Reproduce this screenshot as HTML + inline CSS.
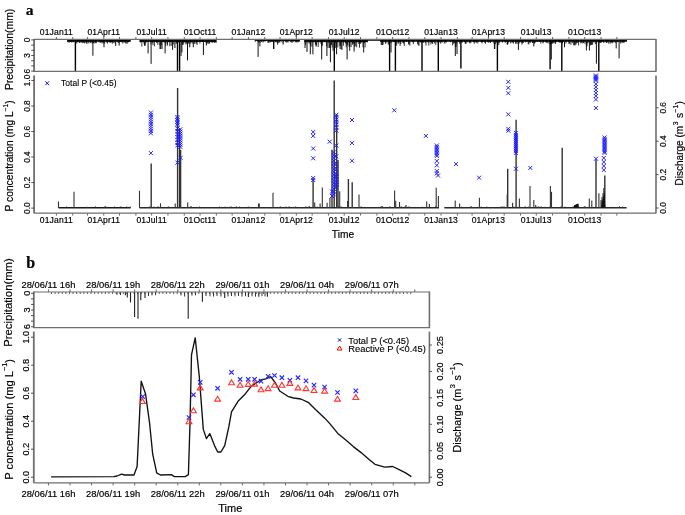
<!DOCTYPE html>
<html><head><meta charset="utf-8"><title>Figure</title>
<style>html,body{margin:0;padding:0;background:#fff;}svg{display:block;will-change:transform;filter:blur(0.3px);}</style></head>
<body><svg width="685" height="515" viewBox="0 0 685 515">
<rect width="685" height="515" fill="#fff"/>
<text x="25.70" y="14.50" font-size="15.6" text-anchor="start" fill="#000" font-weight="bold" font-family='"Liberation Serif", serif' stroke="#000" stroke-width="0.18">a</text>
<line x1="56.40" y1="39.40" x2="56.40" y2="37.00" stroke="#555" stroke-width="0.9" />
<line x1="56.40" y1="213.20" x2="56.40" y2="215.60" stroke="#555" stroke-width="0.9" />
<text x="56.40" y="35.00" font-size="8.55" text-anchor="middle" fill="#000" font-weight="normal" font-family='"Liberation Sans", sans-serif' stroke="#000" stroke-width="0.18" letter-spacing="0.15">01Jan11</text>
<text x="56.40" y="223.00" font-size="8.55" text-anchor="middle" fill="#000" font-weight="normal" font-family='"Liberation Sans", sans-serif' stroke="#000" stroke-width="0.18" letter-spacing="0.15">01Jan11</text>
<line x1="72.71" y1="39.40" x2="72.71" y2="37.00" stroke="#555" stroke-width="0.9" />
<line x1="72.71" y1="213.20" x2="72.71" y2="215.60" stroke="#555" stroke-width="0.9" />
<line x1="87.45" y1="39.40" x2="87.45" y2="37.00" stroke="#555" stroke-width="0.9" />
<line x1="87.45" y1="213.20" x2="87.45" y2="215.60" stroke="#555" stroke-width="0.9" />
<line x1="103.76" y1="39.40" x2="103.76" y2="37.00" stroke="#555" stroke-width="0.9" />
<line x1="103.76" y1="213.20" x2="103.76" y2="215.60" stroke="#555" stroke-width="0.9" />
<text x="103.76" y="35.00" font-size="8.55" text-anchor="middle" fill="#000" font-weight="normal" font-family='"Liberation Sans", sans-serif' stroke="#000" stroke-width="0.18" letter-spacing="0.15">01Apr11</text>
<text x="103.76" y="223.00" font-size="8.55" text-anchor="middle" fill="#000" font-weight="normal" font-family='"Liberation Sans", sans-serif' stroke="#000" stroke-width="0.18" letter-spacing="0.15">01Apr11</text>
<line x1="119.54" y1="39.40" x2="119.54" y2="37.00" stroke="#555" stroke-width="0.9" />
<line x1="119.54" y1="213.20" x2="119.54" y2="215.60" stroke="#555" stroke-width="0.9" />
<line x1="135.86" y1="39.40" x2="135.86" y2="37.00" stroke="#555" stroke-width="0.9" />
<line x1="135.86" y1="213.20" x2="135.86" y2="215.60" stroke="#555" stroke-width="0.9" />
<line x1="151.64" y1="39.40" x2="151.64" y2="37.00" stroke="#555" stroke-width="0.9" />
<line x1="151.64" y1="213.20" x2="151.64" y2="215.60" stroke="#555" stroke-width="0.9" />
<text x="151.64" y="35.00" font-size="8.55" text-anchor="middle" fill="#000" font-weight="normal" font-family='"Liberation Sans", sans-serif' stroke="#000" stroke-width="0.18" letter-spacing="0.15">01Jul11</text>
<text x="151.64" y="223.00" font-size="8.55" text-anchor="middle" fill="#000" font-weight="normal" font-family='"Liberation Sans", sans-serif' stroke="#000" stroke-width="0.18" letter-spacing="0.15">01Jul11</text>
<line x1="167.95" y1="39.40" x2="167.95" y2="37.00" stroke="#555" stroke-width="0.9" />
<line x1="167.95" y1="213.20" x2="167.95" y2="215.60" stroke="#555" stroke-width="0.9" />
<line x1="184.27" y1="39.40" x2="184.27" y2="37.00" stroke="#555" stroke-width="0.9" />
<line x1="184.27" y1="213.20" x2="184.27" y2="215.60" stroke="#555" stroke-width="0.9" />
<line x1="200.05" y1="39.40" x2="200.05" y2="37.00" stroke="#555" stroke-width="0.9" />
<line x1="200.05" y1="213.20" x2="200.05" y2="215.60" stroke="#555" stroke-width="0.9" />
<text x="200.05" y="35.00" font-size="8.55" text-anchor="middle" fill="#000" font-weight="normal" font-family='"Liberation Sans", sans-serif' stroke="#000" stroke-width="0.18" letter-spacing="0.15">01Oct11</text>
<text x="200.05" y="223.00" font-size="8.55" text-anchor="middle" fill="#000" font-weight="normal" font-family='"Liberation Sans", sans-serif' stroke="#000" stroke-width="0.18" letter-spacing="0.15">01Oct11</text>
<line x1="216.36" y1="39.40" x2="216.36" y2="37.00" stroke="#555" stroke-width="0.9" />
<line x1="216.36" y1="213.20" x2="216.36" y2="215.60" stroke="#555" stroke-width="0.9" />
<line x1="232.15" y1="39.40" x2="232.15" y2="37.00" stroke="#555" stroke-width="0.9" />
<line x1="232.15" y1="213.20" x2="232.15" y2="215.60" stroke="#555" stroke-width="0.9" />
<line x1="248.46" y1="39.40" x2="248.46" y2="37.00" stroke="#555" stroke-width="0.9" />
<line x1="248.46" y1="213.20" x2="248.46" y2="215.60" stroke="#555" stroke-width="0.9" />
<text x="248.46" y="35.00" font-size="8.55" text-anchor="middle" fill="#000" font-weight="normal" font-family='"Liberation Sans", sans-serif' stroke="#000" stroke-width="0.18" letter-spacing="0.15">01Jan12</text>
<text x="248.46" y="223.00" font-size="8.55" text-anchor="middle" fill="#000" font-weight="normal" font-family='"Liberation Sans", sans-serif' stroke="#000" stroke-width="0.18" letter-spacing="0.15">01Jan12</text>
<line x1="264.78" y1="39.40" x2="264.78" y2="37.00" stroke="#555" stroke-width="0.9" />
<line x1="264.78" y1="213.20" x2="264.78" y2="215.60" stroke="#555" stroke-width="0.9" />
<line x1="280.03" y1="39.40" x2="280.03" y2="37.00" stroke="#555" stroke-width="0.9" />
<line x1="280.03" y1="213.20" x2="280.03" y2="215.60" stroke="#555" stroke-width="0.9" />
<line x1="296.35" y1="39.40" x2="296.35" y2="37.00" stroke="#555" stroke-width="0.9" />
<line x1="296.35" y1="213.20" x2="296.35" y2="215.60" stroke="#555" stroke-width="0.9" />
<text x="296.35" y="35.00" font-size="8.55" text-anchor="middle" fill="#000" font-weight="normal" font-family='"Liberation Sans", sans-serif' stroke="#000" stroke-width="0.18" letter-spacing="0.15">01Apr12</text>
<text x="296.35" y="223.00" font-size="8.55" text-anchor="middle" fill="#000" font-weight="normal" font-family='"Liberation Sans", sans-serif' stroke="#000" stroke-width="0.18" letter-spacing="0.15">01Apr12</text>
<line x1="312.13" y1="39.40" x2="312.13" y2="37.00" stroke="#555" stroke-width="0.9" />
<line x1="312.13" y1="213.20" x2="312.13" y2="215.60" stroke="#555" stroke-width="0.9" />
<line x1="328.45" y1="39.40" x2="328.45" y2="37.00" stroke="#555" stroke-width="0.9" />
<line x1="328.45" y1="213.20" x2="328.45" y2="215.60" stroke="#555" stroke-width="0.9" />
<line x1="344.23" y1="39.40" x2="344.23" y2="37.00" stroke="#555" stroke-width="0.9" />
<line x1="344.23" y1="213.20" x2="344.23" y2="215.60" stroke="#555" stroke-width="0.9" />
<text x="344.23" y="35.00" font-size="8.55" text-anchor="middle" fill="#000" font-weight="normal" font-family='"Liberation Sans", sans-serif' stroke="#000" stroke-width="0.18" letter-spacing="0.15">01Jul12</text>
<text x="344.23" y="223.00" font-size="8.55" text-anchor="middle" fill="#000" font-weight="normal" font-family='"Liberation Sans", sans-serif' stroke="#000" stroke-width="0.18" letter-spacing="0.15">01Jul12</text>
<line x1="360.54" y1="39.40" x2="360.54" y2="37.00" stroke="#555" stroke-width="0.9" />
<line x1="360.54" y1="213.20" x2="360.54" y2="215.60" stroke="#555" stroke-width="0.9" />
<line x1="376.86" y1="39.40" x2="376.86" y2="37.00" stroke="#555" stroke-width="0.9" />
<line x1="376.86" y1="213.20" x2="376.86" y2="215.60" stroke="#555" stroke-width="0.9" />
<line x1="392.64" y1="39.40" x2="392.64" y2="37.00" stroke="#555" stroke-width="0.9" />
<line x1="392.64" y1="213.20" x2="392.64" y2="215.60" stroke="#555" stroke-width="0.9" />
<text x="392.64" y="35.00" font-size="8.55" text-anchor="middle" fill="#000" font-weight="normal" font-family='"Liberation Sans", sans-serif' stroke="#000" stroke-width="0.18" letter-spacing="0.15">01Oct12</text>
<text x="392.64" y="223.00" font-size="8.55" text-anchor="middle" fill="#000" font-weight="normal" font-family='"Liberation Sans", sans-serif' stroke="#000" stroke-width="0.18" letter-spacing="0.15">01Oct12</text>
<line x1="408.95" y1="39.40" x2="408.95" y2="37.00" stroke="#555" stroke-width="0.9" />
<line x1="408.95" y1="213.20" x2="408.95" y2="215.60" stroke="#555" stroke-width="0.9" />
<line x1="424.74" y1="39.40" x2="424.74" y2="37.00" stroke="#555" stroke-width="0.9" />
<line x1="424.74" y1="213.20" x2="424.74" y2="215.60" stroke="#555" stroke-width="0.9" />
<line x1="441.05" y1="39.40" x2="441.05" y2="37.00" stroke="#555" stroke-width="0.9" />
<line x1="441.05" y1="213.20" x2="441.05" y2="215.60" stroke="#555" stroke-width="0.9" />
<text x="441.05" y="35.00" font-size="8.55" text-anchor="middle" fill="#000" font-weight="normal" font-family='"Liberation Sans", sans-serif' stroke="#000" stroke-width="0.18" letter-spacing="0.15">01Jan13</text>
<text x="441.05" y="223.00" font-size="8.55" text-anchor="middle" fill="#000" font-weight="normal" font-family='"Liberation Sans", sans-serif' stroke="#000" stroke-width="0.18" letter-spacing="0.15">01Jan13</text>
<line x1="457.36" y1="39.40" x2="457.36" y2="37.00" stroke="#555" stroke-width="0.9" />
<line x1="457.36" y1="213.20" x2="457.36" y2="215.60" stroke="#555" stroke-width="0.9" />
<line x1="472.10" y1="39.40" x2="472.10" y2="37.00" stroke="#555" stroke-width="0.9" />
<line x1="472.10" y1="213.20" x2="472.10" y2="215.60" stroke="#555" stroke-width="0.9" />
<line x1="488.41" y1="39.40" x2="488.41" y2="37.00" stroke="#555" stroke-width="0.9" />
<line x1="488.41" y1="213.20" x2="488.41" y2="215.60" stroke="#555" stroke-width="0.9" />
<text x="488.41" y="35.00" font-size="8.55" text-anchor="middle" fill="#000" font-weight="normal" font-family='"Liberation Sans", sans-serif' stroke="#000" stroke-width="0.18" letter-spacing="0.15">01Apr13</text>
<text x="488.41" y="223.00" font-size="8.55" text-anchor="middle" fill="#000" font-weight="normal" font-family='"Liberation Sans", sans-serif' stroke="#000" stroke-width="0.18" letter-spacing="0.15">01Apr13</text>
<line x1="504.20" y1="39.40" x2="504.20" y2="37.00" stroke="#555" stroke-width="0.9" />
<line x1="504.20" y1="213.20" x2="504.20" y2="215.60" stroke="#555" stroke-width="0.9" />
<line x1="520.51" y1="39.40" x2="520.51" y2="37.00" stroke="#555" stroke-width="0.9" />
<line x1="520.51" y1="213.20" x2="520.51" y2="215.60" stroke="#555" stroke-width="0.9" />
<line x1="536.29" y1="39.40" x2="536.29" y2="37.00" stroke="#555" stroke-width="0.9" />
<line x1="536.29" y1="213.20" x2="536.29" y2="215.60" stroke="#555" stroke-width="0.9" />
<text x="536.29" y="35.00" font-size="8.55" text-anchor="middle" fill="#000" font-weight="normal" font-family='"Liberation Sans", sans-serif' stroke="#000" stroke-width="0.18" letter-spacing="0.15">01Jul13</text>
<text x="536.29" y="223.00" font-size="8.55" text-anchor="middle" fill="#000" font-weight="normal" font-family='"Liberation Sans", sans-serif' stroke="#000" stroke-width="0.18" letter-spacing="0.15">01Jul13</text>
<line x1="552.61" y1="39.40" x2="552.61" y2="37.00" stroke="#555" stroke-width="0.9" />
<line x1="552.61" y1="213.20" x2="552.61" y2="215.60" stroke="#555" stroke-width="0.9" />
<line x1="568.92" y1="39.40" x2="568.92" y2="37.00" stroke="#555" stroke-width="0.9" />
<line x1="568.92" y1="213.20" x2="568.92" y2="215.60" stroke="#555" stroke-width="0.9" />
<line x1="584.70" y1="39.40" x2="584.70" y2="37.00" stroke="#555" stroke-width="0.9" />
<line x1="584.70" y1="213.20" x2="584.70" y2="215.60" stroke="#555" stroke-width="0.9" />
<text x="584.70" y="35.00" font-size="8.55" text-anchor="middle" fill="#000" font-weight="normal" font-family='"Liberation Sans", sans-serif' stroke="#000" stroke-width="0.18" letter-spacing="0.15">01Oct13</text>
<text x="584.70" y="223.00" font-size="8.55" text-anchor="middle" fill="#000" font-weight="normal" font-family='"Liberation Sans", sans-serif' stroke="#000" stroke-width="0.18" letter-spacing="0.15">01Oct13</text>
<line x1="601.02" y1="39.40" x2="601.02" y2="37.00" stroke="#555" stroke-width="0.9" />
<line x1="601.02" y1="213.20" x2="601.02" y2="215.60" stroke="#555" stroke-width="0.9" />
<line x1="616.80" y1="39.40" x2="616.80" y2="37.00" stroke="#555" stroke-width="0.9" />
<line x1="616.80" y1="213.20" x2="616.80" y2="215.60" stroke="#555" stroke-width="0.9" />
<rect x="67.40" y="39.40" width="63.20" height="2.40" fill="#111"/>
<rect x="139.50" y="39.40" width="76.90" height="2.60" fill="#111"/>
<rect x="255.10" y="39.40" width="44.70" height="1.60" fill="#111"/>
<rect x="304.50" y="39.40" width="63.50" height="2.80" fill="#111"/>
<rect x="368.00" y="39.40" width="12.00" height="1.40" fill="#111"/>
<rect x="380.00" y="39.40" width="247.00" height="2.40" fill="#111"/>
<line x1="67.60" y1="39.40" x2="67.60" y2="42.10" stroke="#000" stroke-width="0.8" />
<line x1="69.00" y1="39.40" x2="69.00" y2="42.87" stroke="#000" stroke-width="0.8" />
<line x1="69.70" y1="39.40" x2="69.70" y2="41.92" stroke="#000" stroke-width="0.8" />
<line x1="70.40" y1="39.40" x2="70.40" y2="41.87" stroke="#000" stroke-width="0.8" />
<line x1="71.10" y1="39.40" x2="71.10" y2="41.94" stroke="#000" stroke-width="0.8" />
<line x1="71.80" y1="39.40" x2="71.80" y2="42.65" stroke="#000" stroke-width="0.8" />
<line x1="73.20" y1="39.40" x2="73.20" y2="42.25" stroke="#000" stroke-width="0.8" />
<line x1="75.30" y1="39.40" x2="75.30" y2="42.59" stroke="#000" stroke-width="0.8" />
<line x1="76.70" y1="39.40" x2="76.70" y2="43.52" stroke="#000" stroke-width="0.8" />
<line x1="77.40" y1="39.40" x2="77.40" y2="42.09" stroke="#000" stroke-width="0.8" />
<line x1="78.10" y1="39.40" x2="78.10" y2="42.42" stroke="#000" stroke-width="0.8" />
<line x1="79.50" y1="39.40" x2="79.50" y2="42.96" stroke="#000" stroke-width="0.8" />
<line x1="80.90" y1="39.40" x2="80.90" y2="42.90" stroke="#000" stroke-width="0.8" />
<line x1="81.60" y1="39.40" x2="81.60" y2="41.92" stroke="#000" stroke-width="0.8" />
<line x1="82.30" y1="39.40" x2="82.30" y2="43.16" stroke="#000" stroke-width="0.8" />
<line x1="83.00" y1="39.40" x2="83.00" y2="42.43" stroke="#000" stroke-width="0.8" />
<line x1="83.70" y1="39.40" x2="83.70" y2="42.71" stroke="#000" stroke-width="0.8" />
<line x1="84.40" y1="39.40" x2="84.40" y2="43.39" stroke="#000" stroke-width="0.8" />
<line x1="85.80" y1="39.40" x2="85.80" y2="42.95" stroke="#000" stroke-width="0.8" />
<line x1="86.50" y1="39.40" x2="86.50" y2="43.55" stroke="#000" stroke-width="0.8" />
<line x1="87.90" y1="39.40" x2="87.90" y2="43.76" stroke="#000" stroke-width="0.8" />
<line x1="88.60" y1="39.40" x2="88.60" y2="42.64" stroke="#000" stroke-width="0.8" />
<line x1="90.00" y1="39.40" x2="90.00" y2="42.78" stroke="#000" stroke-width="0.8" />
<line x1="90.70" y1="39.40" x2="90.70" y2="43.14" stroke="#000" stroke-width="0.8" />
<line x1="92.10" y1="39.40" x2="92.10" y2="43.55" stroke="#000" stroke-width="0.8" />
<line x1="92.80" y1="39.40" x2="92.80" y2="43.19" stroke="#000" stroke-width="0.8" />
<line x1="93.50" y1="39.40" x2="93.50" y2="42.96" stroke="#000" stroke-width="0.8" />
<line x1="94.20" y1="39.40" x2="94.20" y2="43.48" stroke="#000" stroke-width="0.8" />
<line x1="95.60" y1="39.40" x2="95.60" y2="43.13" stroke="#000" stroke-width="0.8" />
<line x1="96.30" y1="39.40" x2="96.30" y2="43.20" stroke="#000" stroke-width="0.8" />
<line x1="99.10" y1="39.40" x2="99.10" y2="42.57" stroke="#000" stroke-width="0.8" />
<line x1="100.50" y1="39.40" x2="100.50" y2="42.72" stroke="#000" stroke-width="0.8" />
<line x1="101.20" y1="39.40" x2="101.20" y2="42.03" stroke="#000" stroke-width="0.8" />
<line x1="101.90" y1="39.40" x2="101.90" y2="43.34" stroke="#000" stroke-width="0.8" />
<line x1="102.60" y1="39.40" x2="102.60" y2="42.30" stroke="#000" stroke-width="0.8" />
<line x1="103.30" y1="39.40" x2="103.30" y2="43.54" stroke="#000" stroke-width="0.8" />
<line x1="104.00" y1="39.40" x2="104.00" y2="42.70" stroke="#000" stroke-width="0.8" />
<line x1="104.70" y1="39.40" x2="104.70" y2="43.57" stroke="#000" stroke-width="0.8" />
<line x1="106.80" y1="39.40" x2="106.80" y2="42.63" stroke="#000" stroke-width="0.8" />
<line x1="107.50" y1="39.40" x2="107.50" y2="43.57" stroke="#000" stroke-width="0.8" />
<line x1="108.90" y1="39.40" x2="108.90" y2="42.15" stroke="#000" stroke-width="0.8" />
<line x1="109.60" y1="39.40" x2="109.60" y2="42.27" stroke="#000" stroke-width="0.8" />
<line x1="110.30" y1="39.40" x2="110.30" y2="42.98" stroke="#000" stroke-width="0.8" />
<line x1="111.00" y1="39.40" x2="111.00" y2="41.81" stroke="#000" stroke-width="0.8" />
<line x1="111.70" y1="39.40" x2="111.70" y2="42.54" stroke="#000" stroke-width="0.8" />
<line x1="112.40" y1="39.40" x2="112.40" y2="43.71" stroke="#000" stroke-width="0.8" />
<line x1="113.80" y1="39.40" x2="113.80" y2="43.04" stroke="#000" stroke-width="0.8" />
<line x1="115.20" y1="39.40" x2="115.20" y2="43.60" stroke="#000" stroke-width="0.8" />
<line x1="118.00" y1="39.40" x2="118.00" y2="42.60" stroke="#000" stroke-width="0.8" />
<line x1="118.70" y1="39.40" x2="118.70" y2="43.07" stroke="#000" stroke-width="0.8" />
<line x1="119.40" y1="39.40" x2="119.40" y2="41.93" stroke="#000" stroke-width="0.8" />
<line x1="120.10" y1="39.40" x2="120.10" y2="42.12" stroke="#000" stroke-width="0.8" />
<line x1="120.80" y1="39.40" x2="120.80" y2="41.91" stroke="#000" stroke-width="0.8" />
<line x1="121.50" y1="39.40" x2="121.50" y2="42.10" stroke="#000" stroke-width="0.8" />
<line x1="122.20" y1="39.40" x2="122.20" y2="42.53" stroke="#000" stroke-width="0.8" />
<line x1="122.90" y1="39.40" x2="122.90" y2="43.55" stroke="#000" stroke-width="0.8" />
<line x1="124.30" y1="39.40" x2="124.30" y2="42.30" stroke="#000" stroke-width="0.8" />
<line x1="125.00" y1="39.40" x2="125.00" y2="42.53" stroke="#000" stroke-width="0.8" />
<line x1="125.70" y1="39.40" x2="125.70" y2="43.50" stroke="#000" stroke-width="0.8" />
<line x1="127.10" y1="39.40" x2="127.10" y2="42.77" stroke="#000" stroke-width="0.8" />
<line x1="127.80" y1="39.40" x2="127.80" y2="42.00" stroke="#000" stroke-width="0.8" />
<line x1="128.50" y1="39.40" x2="128.50" y2="42.33" stroke="#000" stroke-width="0.8" />
<line x1="129.90" y1="39.40" x2="129.90" y2="41.85" stroke="#000" stroke-width="0.8" />
<line x1="140.40" y1="39.40" x2="140.40" y2="42.52" stroke="#000" stroke-width="0.8" />
<line x1="141.10" y1="39.40" x2="141.10" y2="41.93" stroke="#000" stroke-width="0.8" />
<line x1="141.80" y1="39.40" x2="141.80" y2="46.59" stroke="#000" stroke-width="0.8" />
<line x1="143.90" y1="39.40" x2="143.90" y2="43.60" stroke="#000" stroke-width="0.8" />
<line x1="144.60" y1="39.40" x2="144.60" y2="45.58" stroke="#000" stroke-width="0.8" />
<line x1="145.30" y1="39.40" x2="145.30" y2="45.62" stroke="#000" stroke-width="0.8" />
<line x1="146.00" y1="39.40" x2="146.00" y2="42.89" stroke="#000" stroke-width="0.8" />
<line x1="150.90" y1="39.40" x2="150.90" y2="44.34" stroke="#000" stroke-width="0.8" />
<line x1="151.60" y1="39.40" x2="151.60" y2="41.94" stroke="#000" stroke-width="0.8" />
<line x1="152.30" y1="39.40" x2="152.30" y2="43.17" stroke="#000" stroke-width="0.8" />
<line x1="153.00" y1="39.40" x2="153.00" y2="45.19" stroke="#000" stroke-width="0.8" />
<line x1="154.40" y1="39.40" x2="154.40" y2="46.39" stroke="#000" stroke-width="0.8" />
<line x1="156.50" y1="39.40" x2="156.50" y2="42.88" stroke="#000" stroke-width="0.8" />
<line x1="157.20" y1="39.40" x2="157.20" y2="42.76" stroke="#000" stroke-width="0.8" />
<line x1="157.90" y1="39.40" x2="157.90" y2="44.86" stroke="#000" stroke-width="0.8" />
<line x1="160.00" y1="39.40" x2="160.00" y2="45.00" stroke="#000" stroke-width="0.8" />
<line x1="161.40" y1="39.40" x2="161.40" y2="45.04" stroke="#000" stroke-width="0.8" />
<line x1="164.20" y1="39.40" x2="164.20" y2="42.67" stroke="#000" stroke-width="0.8" />
<line x1="165.60" y1="39.40" x2="165.60" y2="45.72" stroke="#000" stroke-width="0.8" />
<line x1="167.00" y1="39.40" x2="167.00" y2="43.77" stroke="#000" stroke-width="0.8" />
<line x1="169.10" y1="39.40" x2="169.10" y2="42.42" stroke="#000" stroke-width="0.8" />
<line x1="169.80" y1="39.40" x2="169.80" y2="46.23" stroke="#000" stroke-width="0.8" />
<line x1="171.20" y1="39.40" x2="171.20" y2="45.85" stroke="#000" stroke-width="0.8" />
<line x1="173.30" y1="39.40" x2="173.30" y2="44.49" stroke="#000" stroke-width="0.8" />
<line x1="174.00" y1="39.40" x2="174.00" y2="41.87" stroke="#000" stroke-width="0.8" />
<line x1="176.10" y1="39.40" x2="176.10" y2="43.67" stroke="#000" stroke-width="0.8" />
<line x1="176.80" y1="39.40" x2="176.80" y2="43.54" stroke="#000" stroke-width="0.8" />
<line x1="178.20" y1="39.40" x2="178.20" y2="42.30" stroke="#000" stroke-width="0.8" />
<line x1="178.90" y1="39.40" x2="178.90" y2="42.28" stroke="#000" stroke-width="0.8" />
<line x1="179.60" y1="39.40" x2="179.60" y2="42.32" stroke="#000" stroke-width="0.8" />
<line x1="180.30" y1="39.40" x2="180.30" y2="42.06" stroke="#000" stroke-width="0.8" />
<line x1="181.70" y1="39.40" x2="181.70" y2="42.72" stroke="#000" stroke-width="0.8" />
<line x1="182.40" y1="39.40" x2="182.40" y2="44.87" stroke="#000" stroke-width="0.8" />
<line x1="183.10" y1="39.40" x2="183.10" y2="44.92" stroke="#000" stroke-width="0.8" />
<line x1="183.80" y1="39.40" x2="183.80" y2="43.61" stroke="#000" stroke-width="0.8" />
<line x1="184.50" y1="39.40" x2="184.50" y2="41.86" stroke="#000" stroke-width="0.8" />
<line x1="185.20" y1="39.40" x2="185.20" y2="42.42" stroke="#000" stroke-width="0.8" />
<line x1="185.90" y1="39.40" x2="185.90" y2="44.52" stroke="#000" stroke-width="0.8" />
<line x1="186.60" y1="39.40" x2="186.60" y2="43.41" stroke="#000" stroke-width="0.8" />
<line x1="188.00" y1="39.40" x2="188.00" y2="42.91" stroke="#000" stroke-width="0.8" />
<line x1="188.70" y1="39.40" x2="188.70" y2="43.69" stroke="#000" stroke-width="0.8" />
<line x1="190.10" y1="39.40" x2="190.10" y2="43.71" stroke="#000" stroke-width="0.8" />
<line x1="190.80" y1="39.40" x2="190.80" y2="42.74" stroke="#000" stroke-width="0.8" />
<line x1="192.20" y1="39.40" x2="192.20" y2="43.71" stroke="#000" stroke-width="0.8" />
<line x1="194.30" y1="39.40" x2="194.30" y2="43.88" stroke="#000" stroke-width="0.8" />
<line x1="195.00" y1="39.40" x2="195.00" y2="43.54" stroke="#000" stroke-width="0.8" />
<line x1="196.40" y1="39.40" x2="196.40" y2="43.61" stroke="#000" stroke-width="0.8" />
<line x1="197.10" y1="39.40" x2="197.10" y2="45.00" stroke="#000" stroke-width="0.8" />
<line x1="199.90" y1="39.40" x2="199.90" y2="43.70" stroke="#000" stroke-width="0.8" />
<line x1="202.00" y1="39.40" x2="202.00" y2="42.04" stroke="#000" stroke-width="0.8" />
<line x1="202.70" y1="39.40" x2="202.70" y2="41.95" stroke="#000" stroke-width="0.8" />
<line x1="203.40" y1="39.40" x2="203.40" y2="41.95" stroke="#000" stroke-width="0.8" />
<line x1="206.20" y1="39.40" x2="206.20" y2="43.23" stroke="#000" stroke-width="0.8" />
<line x1="207.60" y1="39.40" x2="207.60" y2="43.57" stroke="#000" stroke-width="0.8" />
<line x1="209.00" y1="39.40" x2="209.00" y2="43.71" stroke="#000" stroke-width="0.8" />
<line x1="209.70" y1="39.40" x2="209.70" y2="42.77" stroke="#000" stroke-width="0.8" />
<line x1="211.80" y1="39.40" x2="211.80" y2="42.66" stroke="#000" stroke-width="0.8" />
<line x1="212.50" y1="39.40" x2="212.50" y2="42.48" stroke="#000" stroke-width="0.8" />
<line x1="213.20" y1="39.40" x2="213.20" y2="42.44" stroke="#000" stroke-width="0.8" />
<line x1="214.60" y1="39.40" x2="214.60" y2="42.91" stroke="#000" stroke-width="0.8" />
<line x1="215.30" y1="39.40" x2="215.30" y2="41.84" stroke="#000" stroke-width="0.8" />
<line x1="216.00" y1="39.40" x2="216.00" y2="43.05" stroke="#000" stroke-width="0.8" />
<line x1="255.20" y1="39.40" x2="255.20" y2="41.86" stroke="#000" stroke-width="0.8" />
<line x1="258.00" y1="39.40" x2="258.00" y2="42.07" stroke="#000" stroke-width="0.8" />
<line x1="258.70" y1="39.40" x2="258.70" y2="42.58" stroke="#000" stroke-width="0.8" />
<line x1="259.40" y1="39.40" x2="259.40" y2="41.93" stroke="#000" stroke-width="0.8" />
<line x1="260.10" y1="39.40" x2="260.10" y2="42.71" stroke="#000" stroke-width="0.8" />
<line x1="261.50" y1="39.40" x2="261.50" y2="41.95" stroke="#000" stroke-width="0.8" />
<line x1="262.90" y1="39.40" x2="262.90" y2="42.50" stroke="#000" stroke-width="0.8" />
<line x1="263.60" y1="39.40" x2="263.60" y2="41.86" stroke="#000" stroke-width="0.8" />
<line x1="265.00" y1="39.40" x2="265.00" y2="41.87" stroke="#000" stroke-width="0.8" />
<line x1="267.80" y1="39.40" x2="267.80" y2="42.66" stroke="#000" stroke-width="0.8" />
<line x1="268.50" y1="39.40" x2="268.50" y2="42.66" stroke="#000" stroke-width="0.8" />
<line x1="269.20" y1="39.40" x2="269.20" y2="42.14" stroke="#000" stroke-width="0.8" />
<line x1="269.90" y1="39.40" x2="269.90" y2="42.73" stroke="#000" stroke-width="0.8" />
<line x1="270.60" y1="39.40" x2="270.60" y2="41.93" stroke="#000" stroke-width="0.8" />
<line x1="271.30" y1="39.40" x2="271.30" y2="42.04" stroke="#000" stroke-width="0.8" />
<line x1="272.00" y1="39.40" x2="272.00" y2="41.96" stroke="#000" stroke-width="0.8" />
<line x1="272.70" y1="39.40" x2="272.70" y2="42.00" stroke="#000" stroke-width="0.8" />
<line x1="273.40" y1="39.40" x2="273.40" y2="42.11" stroke="#000" stroke-width="0.8" />
<line x1="274.80" y1="39.40" x2="274.80" y2="42.30" stroke="#000" stroke-width="0.8" />
<line x1="275.50" y1="39.40" x2="275.50" y2="42.15" stroke="#000" stroke-width="0.8" />
<line x1="276.20" y1="39.40" x2="276.20" y2="42.05" stroke="#000" stroke-width="0.8" />
<line x1="276.90" y1="39.40" x2="276.90" y2="42.53" stroke="#000" stroke-width="0.8" />
<line x1="277.60" y1="39.40" x2="277.60" y2="41.99" stroke="#000" stroke-width="0.8" />
<line x1="278.30" y1="39.40" x2="278.30" y2="42.73" stroke="#000" stroke-width="0.8" />
<line x1="279.00" y1="39.40" x2="279.00" y2="42.62" stroke="#000" stroke-width="0.8" />
<line x1="279.70" y1="39.40" x2="279.70" y2="42.30" stroke="#000" stroke-width="0.8" />
<line x1="281.10" y1="39.40" x2="281.10" y2="42.31" stroke="#000" stroke-width="0.8" />
<line x1="283.20" y1="39.40" x2="283.20" y2="42.63" stroke="#000" stroke-width="0.8" />
<line x1="285.30" y1="39.40" x2="285.30" y2="42.15" stroke="#000" stroke-width="0.8" />
<line x1="286.00" y1="39.40" x2="286.00" y2="41.93" stroke="#000" stroke-width="0.8" />
<line x1="286.70" y1="39.40" x2="286.70" y2="42.54" stroke="#000" stroke-width="0.8" />
<line x1="287.40" y1="39.40" x2="287.40" y2="41.96" stroke="#000" stroke-width="0.8" />
<line x1="288.10" y1="39.40" x2="288.10" y2="42.64" stroke="#000" stroke-width="0.8" />
<line x1="290.20" y1="39.40" x2="290.20" y2="42.04" stroke="#000" stroke-width="0.8" />
<line x1="290.90" y1="39.40" x2="290.90" y2="42.26" stroke="#000" stroke-width="0.8" />
<line x1="291.60" y1="39.40" x2="291.60" y2="42.25" stroke="#000" stroke-width="0.8" />
<line x1="292.30" y1="39.40" x2="292.30" y2="42.76" stroke="#000" stroke-width="0.8" />
<line x1="293.70" y1="39.40" x2="293.70" y2="42.04" stroke="#000" stroke-width="0.8" />
<line x1="295.10" y1="39.40" x2="295.10" y2="42.16" stroke="#000" stroke-width="0.8" />
<line x1="295.80" y1="39.40" x2="295.80" y2="42.18" stroke="#000" stroke-width="0.8" />
<line x1="296.50" y1="39.40" x2="296.50" y2="42.30" stroke="#000" stroke-width="0.8" />
<line x1="297.20" y1="39.40" x2="297.20" y2="42.30" stroke="#000" stroke-width="0.8" />
<line x1="297.90" y1="39.40" x2="297.90" y2="42.06" stroke="#000" stroke-width="0.8" />
<line x1="298.60" y1="39.40" x2="298.60" y2="42.20" stroke="#000" stroke-width="0.8" />
<line x1="299.30" y1="39.40" x2="299.30" y2="41.82" stroke="#000" stroke-width="0.8" />
<line x1="304.90" y1="39.40" x2="304.90" y2="42.27" stroke="#000" stroke-width="0.8" />
<line x1="305.60" y1="39.40" x2="305.60" y2="44.92" stroke="#000" stroke-width="0.8" />
<line x1="309.10" y1="39.40" x2="309.10" y2="43.72" stroke="#000" stroke-width="0.8" />
<line x1="310.50" y1="39.40" x2="310.50" y2="46.07" stroke="#000" stroke-width="0.8" />
<line x1="311.90" y1="39.40" x2="311.90" y2="46.73" stroke="#000" stroke-width="0.8" />
<line x1="315.40" y1="39.40" x2="315.40" y2="44.89" stroke="#000" stroke-width="0.8" />
<line x1="316.10" y1="39.40" x2="316.10" y2="46.73" stroke="#000" stroke-width="0.8" />
<line x1="318.20" y1="39.40" x2="318.20" y2="47.07" stroke="#000" stroke-width="0.8" />
<line x1="320.30" y1="39.40" x2="320.30" y2="41.98" stroke="#000" stroke-width="0.8" />
<line x1="321.00" y1="39.40" x2="321.00" y2="43.93" stroke="#000" stroke-width="0.8" />
<line x1="321.70" y1="39.40" x2="321.70" y2="46.73" stroke="#000" stroke-width="0.8" />
<line x1="322.40" y1="39.40" x2="322.40" y2="45.50" stroke="#000" stroke-width="0.8" />
<line x1="324.50" y1="39.40" x2="324.50" y2="41.82" stroke="#000" stroke-width="0.8" />
<line x1="326.60" y1="39.40" x2="326.60" y2="46.30" stroke="#000" stroke-width="0.8" />
<line x1="328.00" y1="39.40" x2="328.00" y2="47.99" stroke="#000" stroke-width="0.8" />
<line x1="328.70" y1="39.40" x2="328.70" y2="42.43" stroke="#000" stroke-width="0.8" />
<line x1="329.40" y1="39.40" x2="329.40" y2="47.93" stroke="#000" stroke-width="0.8" />
<line x1="330.10" y1="39.40" x2="330.10" y2="48.01" stroke="#000" stroke-width="0.8" />
<line x1="331.50" y1="39.40" x2="331.50" y2="45.01" stroke="#000" stroke-width="0.8" />
<line x1="332.20" y1="39.40" x2="332.20" y2="47.54" stroke="#000" stroke-width="0.8" />
<line x1="335.00" y1="39.40" x2="335.00" y2="43.04" stroke="#000" stroke-width="0.8" />
<line x1="335.70" y1="39.40" x2="335.70" y2="48.04" stroke="#000" stroke-width="0.8" />
<line x1="336.40" y1="39.40" x2="336.40" y2="46.57" stroke="#000" stroke-width="0.8" />
<line x1="337.10" y1="39.40" x2="337.10" y2="42.31" stroke="#000" stroke-width="0.8" />
<line x1="337.80" y1="39.40" x2="337.80" y2="47.44" stroke="#000" stroke-width="0.8" />
<line x1="339.90" y1="39.40" x2="339.90" y2="46.14" stroke="#000" stroke-width="0.8" />
<line x1="340.60" y1="39.40" x2="340.60" y2="45.72" stroke="#000" stroke-width="0.8" />
<line x1="341.30" y1="39.40" x2="341.30" y2="49.31" stroke="#000" stroke-width="0.8" />
<line x1="342.00" y1="39.40" x2="342.00" y2="50.02" stroke="#000" stroke-width="0.8" />
<line x1="343.40" y1="39.40" x2="343.40" y2="45.66" stroke="#000" stroke-width="0.8" />
<line x1="345.50" y1="39.40" x2="345.50" y2="43.39" stroke="#000" stroke-width="0.8" />
<line x1="346.20" y1="39.40" x2="346.20" y2="47.38" stroke="#000" stroke-width="0.8" />
<line x1="346.90" y1="39.40" x2="346.90" y2="45.23" stroke="#000" stroke-width="0.8" />
<line x1="347.60" y1="39.40" x2="347.60" y2="44.89" stroke="#000" stroke-width="0.8" />
<line x1="349.00" y1="39.40" x2="349.00" y2="46.64" stroke="#000" stroke-width="0.8" />
<line x1="349.70" y1="39.40" x2="349.70" y2="47.03" stroke="#000" stroke-width="0.8" />
<line x1="351.10" y1="39.40" x2="351.10" y2="47.10" stroke="#000" stroke-width="0.8" />
<line x1="351.80" y1="39.40" x2="351.80" y2="41.95" stroke="#000" stroke-width="0.8" />
<line x1="352.50" y1="39.40" x2="352.50" y2="44.70" stroke="#000" stroke-width="0.8" />
<line x1="353.20" y1="39.40" x2="353.20" y2="43.58" stroke="#000" stroke-width="0.8" />
<line x1="353.90" y1="39.40" x2="353.90" y2="43.83" stroke="#000" stroke-width="0.8" />
<line x1="354.60" y1="39.40" x2="354.60" y2="46.76" stroke="#000" stroke-width="0.8" />
<line x1="355.30" y1="39.40" x2="355.30" y2="46.23" stroke="#000" stroke-width="0.8" />
<line x1="356.70" y1="39.40" x2="356.70" y2="47.27" stroke="#000" stroke-width="0.8" />
<line x1="358.80" y1="39.40" x2="358.80" y2="44.00" stroke="#000" stroke-width="0.8" />
<line x1="359.50" y1="39.40" x2="359.50" y2="47.69" stroke="#000" stroke-width="0.8" />
<line x1="360.20" y1="39.40" x2="360.20" y2="43.93" stroke="#000" stroke-width="0.8" />
<line x1="360.90" y1="39.40" x2="360.90" y2="43.42" stroke="#000" stroke-width="0.8" />
<line x1="361.60" y1="39.40" x2="361.60" y2="42.40" stroke="#000" stroke-width="0.8" />
<line x1="363.00" y1="39.40" x2="363.00" y2="47.32" stroke="#000" stroke-width="0.8" />
<line x1="363.70" y1="39.40" x2="363.70" y2="43.37" stroke="#000" stroke-width="0.8" />
<line x1="364.40" y1="39.40" x2="364.40" y2="42.92" stroke="#000" stroke-width="0.8" />
<line x1="365.10" y1="39.40" x2="365.10" y2="47.44" stroke="#000" stroke-width="0.8" />
<line x1="381.20" y1="39.40" x2="381.20" y2="44.97" stroke="#000" stroke-width="0.8" />
<line x1="381.90" y1="39.40" x2="381.90" y2="45.02" stroke="#000" stroke-width="0.8" />
<line x1="382.60" y1="39.40" x2="382.60" y2="45.11" stroke="#000" stroke-width="0.8" />
<line x1="384.00" y1="39.40" x2="384.00" y2="42.02" stroke="#000" stroke-width="0.8" />
<line x1="385.40" y1="39.40" x2="385.40" y2="43.88" stroke="#000" stroke-width="0.8" />
<line x1="386.10" y1="39.40" x2="386.10" y2="43.11" stroke="#000" stroke-width="0.8" />
<line x1="388.20" y1="39.40" x2="388.20" y2="44.69" stroke="#000" stroke-width="0.8" />
<line x1="388.90" y1="39.40" x2="388.90" y2="44.25" stroke="#000" stroke-width="0.8" />
<line x1="389.60" y1="39.40" x2="389.60" y2="42.54" stroke="#000" stroke-width="0.8" />
<line x1="390.30" y1="39.40" x2="390.30" y2="42.71" stroke="#000" stroke-width="0.8" />
<line x1="391.70" y1="39.40" x2="391.70" y2="42.77" stroke="#000" stroke-width="0.8" />
<line x1="393.80" y1="39.40" x2="393.80" y2="42.08" stroke="#000" stroke-width="0.8" />
<line x1="394.50" y1="39.40" x2="394.50" y2="41.98" stroke="#000" stroke-width="0.8" />
<line x1="395.20" y1="39.40" x2="395.20" y2="41.98" stroke="#000" stroke-width="0.8" />
<line x1="395.90" y1="39.40" x2="395.90" y2="42.32" stroke="#000" stroke-width="0.8" />
<line x1="396.60" y1="39.40" x2="396.60" y2="45.70" stroke="#000" stroke-width="0.8" />
<line x1="398.00" y1="39.40" x2="398.00" y2="43.62" stroke="#000" stroke-width="0.8" />
<line x1="398.70" y1="39.40" x2="398.70" y2="43.46" stroke="#000" stroke-width="0.8" />
<line x1="399.40" y1="39.40" x2="399.40" y2="42.07" stroke="#000" stroke-width="0.8" />
<line x1="400.10" y1="39.40" x2="400.10" y2="46.06" stroke="#000" stroke-width="0.8" />
<line x1="400.80" y1="39.40" x2="400.80" y2="44.01" stroke="#000" stroke-width="0.8" />
<line x1="402.90" y1="39.40" x2="402.90" y2="42.99" stroke="#000" stroke-width="0.8" />
<line x1="403.60" y1="39.40" x2="403.60" y2="43.56" stroke="#000" stroke-width="0.8" />
<line x1="404.30" y1="39.40" x2="404.30" y2="46.00" stroke="#000" stroke-width="0.8" />
<line x1="406.40" y1="39.40" x2="406.40" y2="41.94" stroke="#000" stroke-width="0.8" />
<line x1="408.50" y1="39.40" x2="408.50" y2="44.38" stroke="#000" stroke-width="0.8" />
<line x1="409.20" y1="39.40" x2="409.20" y2="43.52" stroke="#000" stroke-width="0.8" />
<line x1="412.70" y1="39.40" x2="412.70" y2="42.28" stroke="#000" stroke-width="0.8" />
<line x1="413.40" y1="39.40" x2="413.40" y2="44.10" stroke="#000" stroke-width="0.8" />
<line x1="417.60" y1="39.40" x2="417.60" y2="44.23" stroke="#000" stroke-width="0.8" />
<line x1="418.30" y1="39.40" x2="418.30" y2="45.24" stroke="#000" stroke-width="0.8" />
<line x1="419.00" y1="39.40" x2="419.00" y2="45.85" stroke="#000" stroke-width="0.8" />
<line x1="420.40" y1="39.40" x2="420.40" y2="42.06" stroke="#000" stroke-width="0.8" />
<line x1="421.10" y1="39.40" x2="421.10" y2="43.07" stroke="#000" stroke-width="0.8" />
<line x1="422.50" y1="39.40" x2="422.50" y2="41.94" stroke="#000" stroke-width="0.8" />
<line x1="423.20" y1="39.40" x2="423.20" y2="42.97" stroke="#000" stroke-width="0.8" />
<line x1="423.90" y1="39.40" x2="423.90" y2="42.25" stroke="#000" stroke-width="0.8" />
<line x1="425.30" y1="39.40" x2="425.30" y2="42.98" stroke="#000" stroke-width="0.8" />
<line x1="426.00" y1="39.40" x2="426.00" y2="45.54" stroke="#000" stroke-width="0.8" />
<line x1="428.10" y1="39.40" x2="428.10" y2="42.72" stroke="#000" stroke-width="0.8" />
<line x1="428.80" y1="39.40" x2="428.80" y2="45.55" stroke="#000" stroke-width="0.8" />
<line x1="430.20" y1="39.40" x2="430.20" y2="41.88" stroke="#000" stroke-width="0.8" />
<line x1="430.90" y1="39.40" x2="430.90" y2="44.43" stroke="#000" stroke-width="0.8" />
<line x1="431.60" y1="39.40" x2="431.60" y2="42.80" stroke="#000" stroke-width="0.8" />
<line x1="433.70" y1="39.40" x2="433.70" y2="41.93" stroke="#000" stroke-width="0.8" />
<line x1="434.40" y1="39.40" x2="434.40" y2="43.44" stroke="#000" stroke-width="0.8" />
<line x1="435.80" y1="39.40" x2="435.80" y2="44.91" stroke="#000" stroke-width="0.8" />
<line x1="437.20" y1="39.40" x2="437.20" y2="42.60" stroke="#000" stroke-width="0.8" />
<line x1="438.60" y1="39.40" x2="438.60" y2="43.44" stroke="#000" stroke-width="0.8" />
<line x1="439.30" y1="39.40" x2="439.30" y2="42.24" stroke="#000" stroke-width="0.8" />
<line x1="440.70" y1="39.40" x2="440.70" y2="43.70" stroke="#000" stroke-width="0.8" />
<line x1="441.40" y1="39.40" x2="441.40" y2="42.17" stroke="#000" stroke-width="0.8" />
<line x1="442.10" y1="39.40" x2="442.10" y2="42.63" stroke="#000" stroke-width="0.8" />
<line x1="444.20" y1="39.40" x2="444.20" y2="42.59" stroke="#000" stroke-width="0.8" />
<line x1="444.90" y1="39.40" x2="444.90" y2="43.75" stroke="#000" stroke-width="0.8" />
<line x1="445.60" y1="39.40" x2="445.60" y2="41.90" stroke="#000" stroke-width="0.8" />
<line x1="446.30" y1="39.40" x2="446.30" y2="42.59" stroke="#000" stroke-width="0.8" />
<line x1="450.50" y1="39.40" x2="450.50" y2="42.17" stroke="#000" stroke-width="0.8" />
<line x1="452.60" y1="39.40" x2="452.60" y2="45.39" stroke="#000" stroke-width="0.8" />
<line x1="453.30" y1="39.40" x2="453.30" y2="43.82" stroke="#000" stroke-width="0.8" />
<line x1="454.00" y1="39.40" x2="454.00" y2="42.71" stroke="#000" stroke-width="0.8" />
<line x1="454.70" y1="39.40" x2="454.70" y2="43.31" stroke="#000" stroke-width="0.8" />
<line x1="455.40" y1="39.40" x2="455.40" y2="46.96" stroke="#000" stroke-width="0.8" />
<line x1="456.10" y1="39.40" x2="456.10" y2="47.01" stroke="#000" stroke-width="0.8" />
<line x1="456.80" y1="39.40" x2="456.80" y2="43.73" stroke="#000" stroke-width="0.8" />
<line x1="458.90" y1="39.40" x2="458.90" y2="42.07" stroke="#000" stroke-width="0.8" />
<line x1="459.60" y1="39.40" x2="459.60" y2="43.81" stroke="#000" stroke-width="0.8" />
<line x1="461.00" y1="39.40" x2="461.00" y2="42.53" stroke="#000" stroke-width="0.8" />
<line x1="462.40" y1="39.40" x2="462.40" y2="42.62" stroke="#000" stroke-width="0.8" />
<line x1="464.50" y1="39.40" x2="464.50" y2="41.87" stroke="#000" stroke-width="0.8" />
<line x1="465.20" y1="39.40" x2="465.20" y2="43.64" stroke="#000" stroke-width="0.8" />
<line x1="465.90" y1="39.40" x2="465.90" y2="43.29" stroke="#000" stroke-width="0.8" />
<line x1="467.30" y1="39.40" x2="467.30" y2="42.34" stroke="#000" stroke-width="0.8" />
<line x1="469.40" y1="39.40" x2="469.40" y2="43.23" stroke="#000" stroke-width="0.8" />
<line x1="470.10" y1="39.40" x2="470.10" y2="42.35" stroke="#000" stroke-width="0.8" />
<line x1="470.80" y1="39.40" x2="470.80" y2="43.31" stroke="#000" stroke-width="0.8" />
<line x1="473.60" y1="39.40" x2="473.60" y2="42.27" stroke="#000" stroke-width="0.8" />
<line x1="474.30" y1="39.40" x2="474.30" y2="43.71" stroke="#000" stroke-width="0.8" />
<line x1="475.70" y1="39.40" x2="475.70" y2="42.30" stroke="#000" stroke-width="0.8" />
<line x1="476.40" y1="39.40" x2="476.40" y2="42.79" stroke="#000" stroke-width="0.8" />
<line x1="477.80" y1="39.40" x2="477.80" y2="43.41" stroke="#000" stroke-width="0.8" />
<line x1="481.30" y1="39.40" x2="481.30" y2="42.44" stroke="#000" stroke-width="0.8" />
<line x1="482.00" y1="39.40" x2="482.00" y2="43.36" stroke="#000" stroke-width="0.8" />
<line x1="482.70" y1="39.40" x2="482.70" y2="42.19" stroke="#000" stroke-width="0.8" />
<line x1="484.10" y1="39.40" x2="484.10" y2="41.93" stroke="#000" stroke-width="0.8" />
<line x1="484.80" y1="39.40" x2="484.80" y2="42.91" stroke="#000" stroke-width="0.8" />
<line x1="485.50" y1="39.40" x2="485.50" y2="43.76" stroke="#000" stroke-width="0.8" />
<line x1="487.60" y1="39.40" x2="487.60" y2="41.97" stroke="#000" stroke-width="0.8" />
<line x1="488.30" y1="39.40" x2="488.30" y2="42.80" stroke="#000" stroke-width="0.8" />
<line x1="489.70" y1="39.40" x2="489.70" y2="42.27" stroke="#000" stroke-width="0.8" />
<line x1="490.40" y1="39.40" x2="490.40" y2="43.04" stroke="#000" stroke-width="0.8" />
<line x1="493.90" y1="39.40" x2="493.90" y2="43.48" stroke="#000" stroke-width="0.8" />
<line x1="494.60" y1="39.40" x2="494.60" y2="43.73" stroke="#000" stroke-width="0.8" />
<line x1="495.30" y1="39.40" x2="495.30" y2="44.31" stroke="#000" stroke-width="0.8" />
<line x1="496.00" y1="39.40" x2="496.00" y2="42.64" stroke="#000" stroke-width="0.8" />
<line x1="496.70" y1="39.40" x2="496.70" y2="42.32" stroke="#000" stroke-width="0.8" />
<line x1="498.10" y1="39.40" x2="498.10" y2="42.91" stroke="#000" stroke-width="0.8" />
<line x1="498.80" y1="39.40" x2="498.80" y2="45.17" stroke="#000" stroke-width="0.8" />
<line x1="499.50" y1="39.40" x2="499.50" y2="42.59" stroke="#000" stroke-width="0.8" />
<line x1="502.30" y1="39.40" x2="502.30" y2="42.75" stroke="#000" stroke-width="0.8" />
<line x1="505.10" y1="39.40" x2="505.10" y2="42.65" stroke="#000" stroke-width="0.8" />
<line x1="505.80" y1="39.40" x2="505.80" y2="42.35" stroke="#000" stroke-width="0.8" />
<line x1="507.20" y1="39.40" x2="507.20" y2="44.50" stroke="#000" stroke-width="0.8" />
<line x1="507.90" y1="39.40" x2="507.90" y2="44.31" stroke="#000" stroke-width="0.8" />
<line x1="508.60" y1="39.40" x2="508.60" y2="42.55" stroke="#000" stroke-width="0.8" />
<line x1="510.70" y1="39.40" x2="510.70" y2="43.53" stroke="#000" stroke-width="0.8" />
<line x1="512.10" y1="39.40" x2="512.10" y2="42.87" stroke="#000" stroke-width="0.8" />
<line x1="512.80" y1="39.40" x2="512.80" y2="42.39" stroke="#000" stroke-width="0.8" />
<line x1="513.50" y1="39.40" x2="513.50" y2="43.54" stroke="#000" stroke-width="0.8" />
<line x1="514.90" y1="39.40" x2="514.90" y2="41.83" stroke="#000" stroke-width="0.8" />
<line x1="515.60" y1="39.40" x2="515.60" y2="43.77" stroke="#000" stroke-width="0.8" />
<line x1="516.30" y1="39.40" x2="516.30" y2="42.71" stroke="#000" stroke-width="0.8" />
<line x1="517.00" y1="39.40" x2="517.00" y2="44.11" stroke="#000" stroke-width="0.8" />
<line x1="517.70" y1="39.40" x2="517.70" y2="41.98" stroke="#000" stroke-width="0.8" />
<line x1="518.40" y1="39.40" x2="518.40" y2="42.95" stroke="#000" stroke-width="0.8" />
<line x1="519.10" y1="39.40" x2="519.10" y2="43.65" stroke="#000" stroke-width="0.8" />
<line x1="519.80" y1="39.40" x2="519.80" y2="42.27" stroke="#000" stroke-width="0.8" />
<line x1="521.20" y1="39.40" x2="521.20" y2="42.62" stroke="#000" stroke-width="0.8" />
<line x1="521.90" y1="39.40" x2="521.90" y2="44.56" stroke="#000" stroke-width="0.8" />
<line x1="522.60" y1="39.40" x2="522.60" y2="43.44" stroke="#000" stroke-width="0.8" />
<line x1="523.30" y1="39.40" x2="523.30" y2="43.01" stroke="#000" stroke-width="0.8" />
<line x1="525.40" y1="39.40" x2="525.40" y2="42.37" stroke="#000" stroke-width="0.8" />
<line x1="526.80" y1="39.40" x2="526.80" y2="41.82" stroke="#000" stroke-width="0.8" />
<line x1="528.20" y1="39.40" x2="528.20" y2="44.18" stroke="#000" stroke-width="0.8" />
<line x1="528.90" y1="39.40" x2="528.90" y2="44.36" stroke="#000" stroke-width="0.8" />
<line x1="529.60" y1="39.40" x2="529.60" y2="42.27" stroke="#000" stroke-width="0.8" />
<line x1="530.30" y1="39.40" x2="530.30" y2="42.90" stroke="#000" stroke-width="0.8" />
<line x1="532.40" y1="39.40" x2="532.40" y2="43.04" stroke="#000" stroke-width="0.8" />
<line x1="533.10" y1="39.40" x2="533.10" y2="42.81" stroke="#000" stroke-width="0.8" />
<line x1="533.80" y1="39.40" x2="533.80" y2="42.37" stroke="#000" stroke-width="0.8" />
<line x1="534.50" y1="39.40" x2="534.50" y2="43.65" stroke="#000" stroke-width="0.8" />
<line x1="535.20" y1="39.40" x2="535.20" y2="42.78" stroke="#000" stroke-width="0.8" />
<line x1="537.30" y1="39.40" x2="537.30" y2="42.05" stroke="#000" stroke-width="0.8" />
<line x1="539.40" y1="39.40" x2="539.40" y2="41.91" stroke="#000" stroke-width="0.8" />
<line x1="540.80" y1="39.40" x2="540.80" y2="43.61" stroke="#000" stroke-width="0.8" />
<line x1="542.90" y1="39.40" x2="542.90" y2="43.37" stroke="#000" stroke-width="0.8" />
<line x1="543.60" y1="39.40" x2="543.60" y2="42.61" stroke="#000" stroke-width="0.8" />
<line x1="545.70" y1="39.40" x2="545.70" y2="42.24" stroke="#000" stroke-width="0.8" />
<line x1="546.40" y1="39.40" x2="546.40" y2="42.84" stroke="#000" stroke-width="0.8" />
<line x1="547.10" y1="39.40" x2="547.10" y2="42.05" stroke="#000" stroke-width="0.8" />
<line x1="547.80" y1="39.40" x2="547.80" y2="43.25" stroke="#000" stroke-width="0.8" />
<line x1="549.20" y1="39.40" x2="549.20" y2="43.71" stroke="#000" stroke-width="0.8" />
<line x1="550.60" y1="39.40" x2="550.60" y2="44.65" stroke="#000" stroke-width="0.8" />
<line x1="551.30" y1="39.40" x2="551.30" y2="43.84" stroke="#000" stroke-width="0.8" />
<line x1="552.00" y1="39.40" x2="552.00" y2="43.93" stroke="#000" stroke-width="0.8" />
<line x1="552.70" y1="39.40" x2="552.70" y2="43.23" stroke="#000" stroke-width="0.8" />
<line x1="553.40" y1="39.40" x2="553.40" y2="43.25" stroke="#000" stroke-width="0.8" />
<line x1="554.80" y1="39.40" x2="554.80" y2="43.29" stroke="#000" stroke-width="0.8" />
<line x1="555.50" y1="39.40" x2="555.50" y2="43.90" stroke="#000" stroke-width="0.8" />
<line x1="556.20" y1="39.40" x2="556.20" y2="42.27" stroke="#000" stroke-width="0.8" />
<line x1="558.30" y1="39.40" x2="558.30" y2="42.16" stroke="#000" stroke-width="0.8" />
<line x1="559.00" y1="39.40" x2="559.00" y2="42.01" stroke="#000" stroke-width="0.8" />
<line x1="559.70" y1="39.40" x2="559.70" y2="42.66" stroke="#000" stroke-width="0.8" />
<line x1="560.40" y1="39.40" x2="560.40" y2="42.68" stroke="#000" stroke-width="0.8" />
<line x1="561.10" y1="39.40" x2="561.10" y2="41.88" stroke="#000" stroke-width="0.8" />
<line x1="562.50" y1="39.40" x2="562.50" y2="43.27" stroke="#000" stroke-width="0.8" />
<line x1="563.90" y1="39.40" x2="563.90" y2="41.91" stroke="#000" stroke-width="0.8" />
<line x1="564.60" y1="39.40" x2="564.60" y2="42.56" stroke="#000" stroke-width="0.8" />
<line x1="566.00" y1="39.40" x2="566.00" y2="43.51" stroke="#000" stroke-width="0.8" />
<line x1="568.80" y1="39.40" x2="568.80" y2="43.76" stroke="#000" stroke-width="0.8" />
<line x1="569.50" y1="39.40" x2="569.50" y2="43.71" stroke="#000" stroke-width="0.8" />
<line x1="570.90" y1="39.40" x2="570.90" y2="44.87" stroke="#000" stroke-width="0.8" />
<line x1="572.30" y1="39.40" x2="572.30" y2="43.17" stroke="#000" stroke-width="0.8" />
<line x1="573.70" y1="39.40" x2="573.70" y2="45.30" stroke="#000" stroke-width="0.8" />
<line x1="574.40" y1="39.40" x2="574.40" y2="44.98" stroke="#000" stroke-width="0.8" />
<line x1="575.10" y1="39.40" x2="575.10" y2="43.76" stroke="#000" stroke-width="0.8" />
<line x1="576.50" y1="39.40" x2="576.50" y2="42.83" stroke="#000" stroke-width="0.8" />
<line x1="577.20" y1="39.40" x2="577.20" y2="43.04" stroke="#000" stroke-width="0.8" />
<line x1="577.90" y1="39.40" x2="577.90" y2="42.51" stroke="#000" stroke-width="0.8" />
<line x1="578.60" y1="39.40" x2="578.60" y2="45.45" stroke="#000" stroke-width="0.8" />
<line x1="580.70" y1="39.40" x2="580.70" y2="43.37" stroke="#000" stroke-width="0.8" />
<line x1="581.40" y1="39.40" x2="581.40" y2="42.86" stroke="#000" stroke-width="0.8" />
<line x1="582.80" y1="39.40" x2="582.80" y2="43.55" stroke="#000" stroke-width="0.8" />
<line x1="583.50" y1="39.40" x2="583.50" y2="42.96" stroke="#000" stroke-width="0.8" />
<line x1="584.90" y1="39.40" x2="584.90" y2="43.79" stroke="#000" stroke-width="0.8" />
<line x1="586.30" y1="39.40" x2="586.30" y2="45.31" stroke="#000" stroke-width="0.8" />
<line x1="587.00" y1="39.40" x2="587.00" y2="46.16" stroke="#000" stroke-width="0.8" />
<line x1="587.70" y1="39.40" x2="587.70" y2="43.39" stroke="#000" stroke-width="0.8" />
<line x1="589.10" y1="39.40" x2="589.10" y2="42.58" stroke="#000" stroke-width="0.8" />
<line x1="590.50" y1="39.40" x2="590.50" y2="45.41" stroke="#000" stroke-width="0.8" />
<line x1="591.20" y1="39.40" x2="591.20" y2="44.61" stroke="#000" stroke-width="0.8" />
<line x1="592.60" y1="39.40" x2="592.60" y2="44.72" stroke="#000" stroke-width="0.8" />
<line x1="593.30" y1="39.40" x2="593.30" y2="41.81" stroke="#000" stroke-width="0.8" />
<line x1="594.00" y1="39.40" x2="594.00" y2="42.46" stroke="#000" stroke-width="0.8" />
<line x1="595.40" y1="39.40" x2="595.40" y2="44.06" stroke="#000" stroke-width="0.8" />
<line x1="596.80" y1="39.40" x2="596.80" y2="42.80" stroke="#000" stroke-width="0.8" />
<line x1="598.20" y1="39.40" x2="598.20" y2="41.81" stroke="#000" stroke-width="0.8" />
<line x1="598.90" y1="39.40" x2="598.90" y2="42.27" stroke="#000" stroke-width="0.8" />
<line x1="599.60" y1="39.40" x2="599.60" y2="42.79" stroke="#000" stroke-width="0.8" />
<line x1="600.30" y1="39.40" x2="600.30" y2="42.98" stroke="#000" stroke-width="0.8" />
<line x1="601.00" y1="39.40" x2="601.00" y2="43.05" stroke="#000" stroke-width="0.8" />
<line x1="601.70" y1="39.40" x2="601.70" y2="42.07" stroke="#000" stroke-width="0.8" />
<line x1="603.10" y1="39.40" x2="603.10" y2="42.10" stroke="#000" stroke-width="0.8" />
<line x1="603.80" y1="39.40" x2="603.80" y2="43.08" stroke="#000" stroke-width="0.8" />
<line x1="605.90" y1="39.40" x2="605.90" y2="42.33" stroke="#000" stroke-width="0.8" />
<line x1="606.60" y1="39.40" x2="606.60" y2="43.09" stroke="#000" stroke-width="0.8" />
<line x1="607.30" y1="39.40" x2="607.30" y2="42.50" stroke="#000" stroke-width="0.8" />
<line x1="608.70" y1="39.40" x2="608.70" y2="43.67" stroke="#000" stroke-width="0.8" />
<line x1="610.10" y1="39.40" x2="610.10" y2="43.61" stroke="#000" stroke-width="0.8" />
<line x1="610.80" y1="39.40" x2="610.80" y2="42.86" stroke="#000" stroke-width="0.8" />
<line x1="611.50" y1="39.40" x2="611.50" y2="42.28" stroke="#000" stroke-width="0.8" />
<line x1="612.20" y1="39.40" x2="612.20" y2="43.36" stroke="#000" stroke-width="0.8" />
<line x1="612.90" y1="39.40" x2="612.90" y2="42.90" stroke="#000" stroke-width="0.8" />
<line x1="614.30" y1="39.40" x2="614.30" y2="42.20" stroke="#000" stroke-width="0.8" />
<line x1="615.70" y1="39.40" x2="615.70" y2="43.08" stroke="#000" stroke-width="0.8" />
<line x1="617.10" y1="39.40" x2="617.10" y2="42.42" stroke="#000" stroke-width="0.8" />
<line x1="617.80" y1="39.40" x2="617.80" y2="41.90" stroke="#000" stroke-width="0.8" />
<line x1="620.60" y1="39.40" x2="620.60" y2="43.49" stroke="#000" stroke-width="0.8" />
<line x1="622.00" y1="39.40" x2="622.00" y2="43.28" stroke="#000" stroke-width="0.8" />
<line x1="622.70" y1="39.40" x2="622.70" y2="42.25" stroke="#000" stroke-width="0.8" />
<line x1="623.40" y1="39.40" x2="623.40" y2="42.26" stroke="#000" stroke-width="0.8" />
<line x1="624.10" y1="39.40" x2="624.10" y2="42.47" stroke="#000" stroke-width="0.8" />
<line x1="75.40" y1="39.40" x2="75.40" y2="71.30" stroke="#000" stroke-width="1.4" />
<line x1="92.90" y1="39.40" x2="92.90" y2="55.70" stroke="#111" stroke-width="1.0" />
<line x1="104.00" y1="39.40" x2="104.00" y2="47.30" stroke="#111" stroke-width="1.0" />
<line x1="115.70" y1="39.40" x2="115.70" y2="45.90" stroke="#111" stroke-width="1.0" />
<line x1="119.20" y1="39.40" x2="119.20" y2="45.50" stroke="#111" stroke-width="1.0" />
<line x1="127.00" y1="39.40" x2="127.00" y2="43.80" stroke="#111" stroke-width="1.0" />
<line x1="144.60" y1="39.40" x2="144.60" y2="45.50" stroke="#111" stroke-width="1.0" />
<line x1="148.10" y1="39.40" x2="148.10" y2="53.40" stroke="#111" stroke-width="1.0" />
<line x1="151.10" y1="39.40" x2="151.10" y2="63.90" stroke="#111" stroke-width="1.0" />
<line x1="160.70" y1="39.40" x2="160.70" y2="49.00" stroke="#111" stroke-width="1.0" />
<line x1="165.10" y1="39.40" x2="165.10" y2="53.40" stroke="#111" stroke-width="1.0" />
<line x1="167.40" y1="39.40" x2="167.40" y2="45.50" stroke="#111" stroke-width="1.0" />
<line x1="160.00" y1="39.40" x2="160.00" y2="49.00" stroke="#111" stroke-width="1.0" />
<line x1="162.00" y1="39.40" x2="162.00" y2="49.00" stroke="#111" stroke-width="1.0" />
<line x1="172.60" y1="39.40" x2="172.60" y2="49.90" stroke="#111" stroke-width="1.0" />
<line x1="174.90" y1="39.40" x2="174.90" y2="48.00" stroke="#111" stroke-width="1.0" />
<line x1="177.50" y1="39.40" x2="177.50" y2="71.30" stroke="#000" stroke-width="1.4" />
<line x1="179.60" y1="39.40" x2="179.60" y2="71.30" stroke="#000" stroke-width="1.4" />
<line x1="181.00" y1="39.40" x2="181.00" y2="56.00" stroke="#111" stroke-width="1.0" />
<line x1="181.90" y1="39.40" x2="181.90" y2="52.50" stroke="#111" stroke-width="1.0" />
<line x1="187.50" y1="39.40" x2="187.50" y2="60.40" stroke="#111" stroke-width="1.0" />
<line x1="189.80" y1="39.40" x2="189.80" y2="47.30" stroke="#111" stroke-width="1.0" />
<line x1="193.30" y1="39.40" x2="193.30" y2="47.30" stroke="#111" stroke-width="1.0" />
<line x1="203.40" y1="39.40" x2="203.40" y2="55.10" stroke="#111" stroke-width="1.0" />
<line x1="206.40" y1="39.40" x2="206.40" y2="45.50" stroke="#111" stroke-width="1.0" />
<line x1="209.00" y1="39.40" x2="209.00" y2="43.80" stroke="#111" stroke-width="1.0" />
<line x1="258.10" y1="39.40" x2="258.10" y2="56.90" stroke="#111" stroke-width="1.0" />
<line x1="259.90" y1="39.40" x2="259.90" y2="46.40" stroke="#111" stroke-width="1.0" />
<line x1="273.90" y1="39.40" x2="273.90" y2="49.00" stroke="#111" stroke-width="1.0" />
<line x1="277.70" y1="39.40" x2="277.70" y2="44.60" stroke="#111" stroke-width="1.0" />
<line x1="273.50" y1="39.40" x2="273.50" y2="49.00" stroke="#111" stroke-width="1.0" />
<line x1="283.10" y1="39.40" x2="283.10" y2="44.60" stroke="#111" stroke-width="1.0" />
<line x1="305.00" y1="39.40" x2="305.00" y2="48.00" stroke="#111" stroke-width="1.0" />
<line x1="307.00" y1="39.40" x2="307.00" y2="52.00" stroke="#111" stroke-width="1.0" />
<line x1="310.30" y1="39.40" x2="310.30" y2="54.30" stroke="#111" stroke-width="1.0" />
<line x1="312.90" y1="39.40" x2="312.90" y2="54.30" stroke="#111" stroke-width="1.0" />
<line x1="316.40" y1="39.40" x2="316.40" y2="45.50" stroke="#111" stroke-width="1.0" />
<line x1="321.70" y1="39.40" x2="321.70" y2="59.50" stroke="#111" stroke-width="1.0" />
<line x1="326.90" y1="39.40" x2="326.90" y2="56.00" stroke="#111" stroke-width="1.0" />
<line x1="330.40" y1="39.40" x2="330.40" y2="62.20" stroke="#111" stroke-width="1.0" />
<line x1="333.10" y1="39.40" x2="333.10" y2="50.80" stroke="#111" stroke-width="1.0" />
<line x1="334.30" y1="39.40" x2="334.30" y2="71.30" stroke="#000" stroke-width="1.4" />
<line x1="336.60" y1="39.40" x2="336.60" y2="54.30" stroke="#111" stroke-width="1.0" />
<line x1="340.10" y1="39.40" x2="340.10" y2="49.00" stroke="#111" stroke-width="1.0" />
<line x1="347.10" y1="39.40" x2="347.10" y2="59.50" stroke="#111" stroke-width="1.0" />
<line x1="349.70" y1="39.40" x2="349.70" y2="50.80" stroke="#111" stroke-width="1.0" />
<line x1="354.10" y1="39.40" x2="354.10" y2="51.60" stroke="#111" stroke-width="1.0" />
<line x1="363.70" y1="39.40" x2="363.70" y2="52.50" stroke="#111" stroke-width="1.0" />
<line x1="383.00" y1="39.40" x2="383.00" y2="44.60" stroke="#111" stroke-width="1.0" />
<line x1="389.60" y1="39.40" x2="389.60" y2="71.30" stroke="#000" stroke-width="1.4" />
<line x1="391.00" y1="39.40" x2="391.00" y2="52.50" stroke="#111" stroke-width="1.0" />
<line x1="395.40" y1="39.40" x2="395.40" y2="71.30" stroke="#000" stroke-width="1.4" />
<line x1="409.80" y1="39.40" x2="409.80" y2="45.50" stroke="#111" stroke-width="1.0" />
<line x1="422.00" y1="39.40" x2="422.00" y2="71.30" stroke="#000" stroke-width="1.4" />
<line x1="432.60" y1="39.40" x2="432.60" y2="43.80" stroke="#111" stroke-width="1.0" />
<line x1="438.30" y1="39.40" x2="438.30" y2="71.30" stroke="#000" stroke-width="1.4" />
<line x1="455.30" y1="39.40" x2="455.30" y2="56.00" stroke="#111" stroke-width="1.0" />
<line x1="457.00" y1="39.40" x2="457.00" y2="54.00" stroke="#111" stroke-width="1.0" />
<line x1="460.90" y1="39.40" x2="460.90" y2="68.60" stroke="#000" stroke-width="1.4" />
<line x1="465.80" y1="39.40" x2="465.80" y2="43.80" stroke="#111" stroke-width="1.0" />
<line x1="494.80" y1="39.40" x2="494.80" y2="49.00" stroke="#111" stroke-width="1.0" />
<line x1="497.40" y1="39.40" x2="497.40" y2="71.30" stroke="#000" stroke-width="1.4" />
<line x1="494.40" y1="39.40" x2="494.40" y2="49.00" stroke="#111" stroke-width="1.0" />
<line x1="507.50" y1="39.40" x2="507.50" y2="44.60" stroke="#111" stroke-width="1.0" />
<line x1="518.40" y1="39.40" x2="518.40" y2="49.90" stroke="#111" stroke-width="1.0" />
<line x1="533.80" y1="39.40" x2="533.80" y2="46.40" stroke="#111" stroke-width="1.0" />
<line x1="550.10" y1="39.40" x2="550.10" y2="69.20" stroke="#000" stroke-width="1.4" />
<line x1="551.30" y1="39.40" x2="551.30" y2="59.50" stroke="#111" stroke-width="1.0" />
<line x1="561.80" y1="39.40" x2="561.80" y2="71.30" stroke="#000" stroke-width="1.4" />
<line x1="564.50" y1="39.40" x2="564.50" y2="47.30" stroke="#111" stroke-width="1.0" />
<line x1="575.00" y1="39.40" x2="575.00" y2="45.50" stroke="#111" stroke-width="1.0" />
<line x1="576.00" y1="39.40" x2="576.00" y2="44.50" stroke="#111" stroke-width="1.0" />
<line x1="586.40" y1="39.40" x2="586.40" y2="50.50" stroke="#111" stroke-width="1.0" />
<line x1="589.40" y1="39.40" x2="589.40" y2="50.50" stroke="#111" stroke-width="1.0" />
<line x1="591.70" y1="39.40" x2="591.70" y2="44.90" stroke="#111" stroke-width="1.0" />
<line x1="596.40" y1="39.40" x2="596.40" y2="63.70" stroke="#111" stroke-width="1.0" />
<line x1="598.80" y1="39.40" x2="598.80" y2="71.30" stroke="#000" stroke-width="1.4" />
<line x1="616.20" y1="39.40" x2="616.20" y2="48.40" stroke="#111" stroke-width="1.0" />
<line x1="619.10" y1="39.40" x2="619.10" y2="58.40" stroke="#111" stroke-width="1.0" />
<line x1="623.80" y1="39.40" x2="623.80" y2="42.60" stroke="#111" stroke-width="1.0" />
<line x1="34.10" y1="39.40" x2="656.00" y2="39.40" stroke="#6f6f6f" stroke-width="1.1" />
<line x1="34.10" y1="71.30" x2="656.00" y2="71.30" stroke="#6f6f6f" stroke-width="1.2" />
<line x1="34.10" y1="38.90" x2="34.10" y2="71.80" stroke="#6f6f6f" stroke-width="1.8" />
<line x1="656.00" y1="38.90" x2="656.00" y2="71.80" stroke="#6f6f6f" stroke-width="1.6" />
<line x1="31.20" y1="39.90" x2="34.10" y2="39.90" stroke="#444" stroke-width="0.9" />
<line x1="31.20" y1="45.10" x2="34.10" y2="45.10" stroke="#444" stroke-width="0.9" />
<line x1="31.20" y1="50.30" x2="34.10" y2="50.30" stroke="#444" stroke-width="0.9" />
<line x1="31.20" y1="55.50" x2="34.10" y2="55.50" stroke="#444" stroke-width="0.9" />
<line x1="31.20" y1="60.70" x2="34.10" y2="60.70" stroke="#444" stroke-width="0.9" />
<line x1="31.20" y1="65.90" x2="34.10" y2="65.90" stroke="#444" stroke-width="0.9" />
<line x1="31.20" y1="71.10" x2="34.10" y2="71.10" stroke="#444" stroke-width="0.9" />
<text x="29.70" y="39.90" font-size="8.3" text-anchor="middle" fill="#000" font-weight="normal" font-family='"Liberation Sans", sans-serif' transform="rotate(-90 29.70 39.90)" stroke="#000" stroke-width="0.18">0</text>
<text x="29.70" y="55.50" font-size="8.3" text-anchor="middle" fill="#000" font-weight="normal" font-family='"Liberation Sans", sans-serif' transform="rotate(-90 29.70 55.50)" stroke="#000" stroke-width="0.18">3</text>
<text x="29.70" y="71.10" font-size="8.3" text-anchor="middle" fill="#000" font-weight="normal" font-family='"Liberation Sans", sans-serif' transform="rotate(-90 29.70 71.10)" stroke="#000" stroke-width="0.18">6</text>
<text x="13.20" y="49.40" font-size="10.4" text-anchor="middle" fill="#000" font-weight="normal" font-family='"Liberation Sans", sans-serif' transform="rotate(-90 13.20 49.40)" stroke="#000" stroke-width="0.18">Precipitation(mm)</text>
<line x1="34.10" y1="75.40" x2="34.10" y2="213.20" stroke="#6f6f6f" stroke-width="1.8" />
<line x1="34.10" y1="213.20" x2="656.00" y2="213.20" stroke="#6f6f6f" stroke-width="1.3" />
<line x1="656.00" y1="75.40" x2="656.00" y2="213.20" stroke="#6f6f6f" stroke-width="1.6" />
<line x1="31.30" y1="208.10" x2="34.10" y2="208.10" stroke="#444" stroke-width="0.9" />
<text x="29.60" y="208.10" font-size="8.3" text-anchor="middle" fill="#000" font-weight="normal" font-family='"Liberation Sans", sans-serif' transform="rotate(-90 29.60 208.10)" stroke="#000" stroke-width="0.18">0.0</text>
<line x1="31.30" y1="182.58" x2="34.10" y2="182.58" stroke="#444" stroke-width="0.9" />
<text x="29.60" y="182.58" font-size="8.3" text-anchor="middle" fill="#000" font-weight="normal" font-family='"Liberation Sans", sans-serif' transform="rotate(-90 29.60 182.58)" stroke="#000" stroke-width="0.18">0.2</text>
<line x1="31.30" y1="157.06" x2="34.10" y2="157.06" stroke="#444" stroke-width="0.9" />
<text x="29.60" y="157.06" font-size="8.3" text-anchor="middle" fill="#000" font-weight="normal" font-family='"Liberation Sans", sans-serif' transform="rotate(-90 29.60 157.06)" stroke="#000" stroke-width="0.18">0.4</text>
<line x1="31.30" y1="131.54" x2="34.10" y2="131.54" stroke="#444" stroke-width="0.9" />
<text x="29.60" y="131.54" font-size="8.3" text-anchor="middle" fill="#000" font-weight="normal" font-family='"Liberation Sans", sans-serif' transform="rotate(-90 29.60 131.54)" stroke="#000" stroke-width="0.18">0.6</text>
<line x1="31.30" y1="106.02" x2="34.10" y2="106.02" stroke="#444" stroke-width="0.9" />
<text x="29.60" y="106.02" font-size="8.3" text-anchor="middle" fill="#000" font-weight="normal" font-family='"Liberation Sans", sans-serif' transform="rotate(-90 29.60 106.02)" stroke="#000" stroke-width="0.18">0.8</text>
<line x1="31.30" y1="80.50" x2="34.10" y2="80.50" stroke="#444" stroke-width="0.9" />
<text x="29.60" y="80.50" font-size="8.3" text-anchor="middle" fill="#000" font-weight="normal" font-family='"Liberation Sans", sans-serif' transform="rotate(-90 29.60 80.50)" stroke="#000" stroke-width="0.18">1.0</text>
<line x1="656.00" y1="208.00" x2="658.60" y2="208.00" stroke="#444" stroke-width="0.9" />
<text x="665.80" y="208.00" font-size="8.3" text-anchor="middle" fill="#000" font-weight="normal" font-family='"Liberation Sans", sans-serif' transform="rotate(-90 665.80 208.00)" stroke="#000" stroke-width="0.18">0.0</text>
<line x1="656.00" y1="174.60" x2="658.60" y2="174.60" stroke="#444" stroke-width="0.9" />
<text x="665.80" y="174.60" font-size="8.3" text-anchor="middle" fill="#000" font-weight="normal" font-family='"Liberation Sans", sans-serif' transform="rotate(-90 665.80 174.60)" stroke="#000" stroke-width="0.18">0.2</text>
<line x1="656.00" y1="141.20" x2="658.60" y2="141.20" stroke="#444" stroke-width="0.9" />
<text x="665.80" y="141.20" font-size="8.3" text-anchor="middle" fill="#000" font-weight="normal" font-family='"Liberation Sans", sans-serif' transform="rotate(-90 665.80 141.20)" stroke="#000" stroke-width="0.18">0.4</text>
<line x1="656.00" y1="107.80" x2="658.60" y2="107.80" stroke="#444" stroke-width="0.9" />
<text x="665.80" y="107.80" font-size="8.3" text-anchor="middle" fill="#000" font-weight="normal" font-family='"Liberation Sans", sans-serif' transform="rotate(-90 665.80 107.80)" stroke="#000" stroke-width="0.18">0.6</text>
<text x="13.20" y="155.90" font-size="10.25" text-anchor="middle" fill="#000" font-weight="normal" font-family='"Liberation Sans", sans-serif' transform="rotate(-90 13.20 155.90)" stroke="#000" stroke-width="0.18">P concentration (mg L<tspan dy="-5.0" font-size="6.6">−1</tspan><tspan dy="5.0">)</tspan></text>
<text x="682.80" y="143.30" font-size="10.0" text-anchor="middle" fill="#000" font-weight="normal" font-family='"Liberation Sans", sans-serif' transform="rotate(-90 682.80 143.30)" stroke="#000" stroke-width="0.18">Discharge (m<tspan dx="0.6" dy="-4.8" font-size="6.8">3</tspan><tspan dx="0.8" dy="4.8"> s</tspan><tspan dx="0.4" dy="-4.8" font-size="6.8">−1</tspan><tspan dx="0.3" dy="4.8">)</tspan></text>
<text x="343.00" y="237.50" font-size="10.2" text-anchor="middle" fill="#000" font-weight="normal" font-family='"Liberation Sans", sans-serif' stroke="#000" stroke-width="0.18">Time</text>
<line x1="58.50" y1="207.80" x2="130.60" y2="207.80" stroke="#1a1a1a" stroke-width="1.6" />
<line x1="66.50" y1="207.80" x2="66.50" y2="206.40" stroke="#333" stroke-width="0.7" />
<line x1="80.10" y1="207.80" x2="80.10" y2="206.80" stroke="#333" stroke-width="0.7" />
<line x1="85.70" y1="207.80" x2="85.70" y2="206.80" stroke="#333" stroke-width="0.7" />
<line x1="87.30" y1="207.80" x2="87.30" y2="206.80" stroke="#333" stroke-width="0.7" />
<line x1="91.30" y1="207.80" x2="91.30" y2="206.80" stroke="#333" stroke-width="0.7" />
<line x1="95.30" y1="207.80" x2="95.30" y2="206.00" stroke="#333" stroke-width="0.7" />
<line x1="104.90" y1="207.80" x2="104.90" y2="206.00" stroke="#333" stroke-width="0.7" />
<line x1="105.70" y1="207.80" x2="105.70" y2="206.00" stroke="#333" stroke-width="0.7" />
<line x1="114.50" y1="207.80" x2="114.50" y2="206.40" stroke="#333" stroke-width="0.7" />
<line x1="120.90" y1="207.80" x2="120.90" y2="206.00" stroke="#333" stroke-width="0.7" />
<line x1="126.50" y1="207.80" x2="126.50" y2="206.40" stroke="#333" stroke-width="0.7" />
<line x1="128.10" y1="207.80" x2="128.10" y2="206.80" stroke="#333" stroke-width="0.7" />
<line x1="130.50" y1="207.80" x2="130.50" y2="206.40" stroke="#333" stroke-width="0.7" />
<line x1="139.50" y1="207.80" x2="439.00" y2="207.80" stroke="#2a2a2a" stroke-width="1.5" />
<line x1="149.90" y1="207.80" x2="149.90" y2="206.00" stroke="#333" stroke-width="0.7" />
<line x1="153.90" y1="207.80" x2="153.90" y2="206.40" stroke="#333" stroke-width="0.7" />
<line x1="157.90" y1="207.80" x2="157.90" y2="206.00" stroke="#333" stroke-width="0.7" />
<line x1="158.70" y1="207.80" x2="158.70" y2="206.80" stroke="#333" stroke-width="0.7" />
<line x1="168.30" y1="207.80" x2="168.30" y2="206.00" stroke="#333" stroke-width="0.7" />
<line x1="190.70" y1="207.80" x2="190.70" y2="206.00" stroke="#333" stroke-width="0.7" />
<line x1="191.50" y1="207.80" x2="191.50" y2="206.40" stroke="#333" stroke-width="0.7" />
<line x1="196.30" y1="207.80" x2="196.30" y2="206.80" stroke="#333" stroke-width="0.7" />
<line x1="199.50" y1="207.80" x2="199.50" y2="206.40" stroke="#333" stroke-width="0.7" />
<line x1="219.50" y1="207.80" x2="219.50" y2="206.40" stroke="#333" stroke-width="0.7" />
<line x1="225.10" y1="207.80" x2="225.10" y2="206.40" stroke="#333" stroke-width="0.7" />
<line x1="229.90" y1="207.80" x2="229.90" y2="206.40" stroke="#333" stroke-width="0.7" />
<line x1="231.50" y1="207.80" x2="231.50" y2="206.40" stroke="#333" stroke-width="0.7" />
<line x1="236.30" y1="207.80" x2="236.30" y2="206.00" stroke="#333" stroke-width="0.7" />
<line x1="239.50" y1="207.80" x2="239.50" y2="206.40" stroke="#333" stroke-width="0.7" />
<line x1="248.30" y1="207.80" x2="248.30" y2="206.40" stroke="#333" stroke-width="0.7" />
<line x1="249.90" y1="207.80" x2="249.90" y2="206.80" stroke="#333" stroke-width="0.7" />
<line x1="280.30" y1="207.80" x2="280.30" y2="206.00" stroke="#333" stroke-width="0.7" />
<line x1="285.90" y1="207.80" x2="285.90" y2="206.40" stroke="#333" stroke-width="0.7" />
<line x1="289.10" y1="207.80" x2="289.10" y2="206.00" stroke="#333" stroke-width="0.7" />
<line x1="293.90" y1="207.80" x2="293.90" y2="206.80" stroke="#333" stroke-width="0.7" />
<line x1="295.50" y1="207.80" x2="295.50" y2="206.40" stroke="#333" stroke-width="0.7" />
<line x1="297.10" y1="207.80" x2="297.10" y2="206.80" stroke="#333" stroke-width="0.7" />
<line x1="305.90" y1="207.80" x2="305.90" y2="206.00" stroke="#333" stroke-width="0.7" />
<line x1="317.10" y1="207.80" x2="317.10" y2="206.40" stroke="#333" stroke-width="0.7" />
<line x1="332.30" y1="207.80" x2="332.30" y2="206.80" stroke="#333" stroke-width="0.7" />
<line x1="338.70" y1="207.80" x2="338.70" y2="206.00" stroke="#333" stroke-width="0.7" />
<line x1="341.10" y1="207.80" x2="341.10" y2="206.00" stroke="#333" stroke-width="0.7" />
<line x1="361.10" y1="207.80" x2="361.10" y2="206.00" stroke="#333" stroke-width="0.7" />
<line x1="365.10" y1="207.80" x2="365.10" y2="206.80" stroke="#333" stroke-width="0.7" />
<line x1="378.70" y1="207.80" x2="378.70" y2="206.80" stroke="#333" stroke-width="0.7" />
<line x1="381.10" y1="207.80" x2="381.10" y2="206.00" stroke="#333" stroke-width="0.7" />
<line x1="381.90" y1="207.80" x2="381.90" y2="206.80" stroke="#333" stroke-width="0.7" />
<line x1="389.90" y1="207.80" x2="389.90" y2="206.00" stroke="#333" stroke-width="0.7" />
<line x1="395.50" y1="207.80" x2="395.50" y2="206.00" stroke="#333" stroke-width="0.7" />
<line x1="401.10" y1="207.80" x2="401.10" y2="206.00" stroke="#333" stroke-width="0.7" />
<line x1="405.10" y1="207.80" x2="405.10" y2="206.00" stroke="#333" stroke-width="0.7" />
<line x1="407.50" y1="207.80" x2="407.50" y2="206.80" stroke="#333" stroke-width="0.7" />
<line x1="409.10" y1="207.80" x2="409.10" y2="206.00" stroke="#333" stroke-width="0.7" />
<line x1="421.90" y1="207.80" x2="421.90" y2="206.80" stroke="#333" stroke-width="0.7" />
<line x1="422.70" y1="207.80" x2="422.70" y2="206.80" stroke="#333" stroke-width="0.7" />
<line x1="435.50" y1="207.80" x2="435.50" y2="206.00" stroke="#333" stroke-width="0.7" />
<line x1="444.30" y1="207.80" x2="626.60" y2="207.80" stroke="#2a2a2a" stroke-width="1.5" />
<line x1="453.10" y1="207.80" x2="453.10" y2="206.80" stroke="#333" stroke-width="0.7" />
<line x1="461.90" y1="207.80" x2="461.90" y2="206.40" stroke="#333" stroke-width="0.7" />
<line x1="481.10" y1="207.80" x2="481.10" y2="206.40" stroke="#333" stroke-width="0.7" />
<line x1="486.70" y1="207.80" x2="486.70" y2="206.40" stroke="#333" stroke-width="0.7" />
<line x1="501.10" y1="207.80" x2="501.10" y2="206.40" stroke="#333" stroke-width="0.7" />
<line x1="502.70" y1="207.80" x2="502.70" y2="206.00" stroke="#333" stroke-width="0.7" />
<line x1="504.30" y1="207.80" x2="504.30" y2="206.40" stroke="#333" stroke-width="0.7" />
<line x1="507.50" y1="207.80" x2="507.50" y2="206.80" stroke="#333" stroke-width="0.7" />
<line x1="513.90" y1="207.80" x2="513.90" y2="206.40" stroke="#333" stroke-width="0.7" />
<line x1="517.90" y1="207.80" x2="517.90" y2="206.80" stroke="#333" stroke-width="0.7" />
<line x1="520.30" y1="207.80" x2="520.30" y2="206.80" stroke="#333" stroke-width="0.7" />
<line x1="525.10" y1="207.80" x2="525.10" y2="206.00" stroke="#333" stroke-width="0.7" />
<line x1="528.30" y1="207.80" x2="528.30" y2="206.40" stroke="#333" stroke-width="0.7" />
<line x1="537.10" y1="207.80" x2="537.10" y2="206.40" stroke="#333" stroke-width="0.7" />
<line x1="538.70" y1="207.80" x2="538.70" y2="206.00" stroke="#333" stroke-width="0.7" />
<line x1="541.10" y1="207.80" x2="541.10" y2="206.00" stroke="#333" stroke-width="0.7" />
<line x1="544.30" y1="207.80" x2="544.30" y2="206.80" stroke="#333" stroke-width="0.7" />
<line x1="545.90" y1="207.80" x2="545.90" y2="206.80" stroke="#333" stroke-width="0.7" />
<line x1="549.90" y1="207.80" x2="549.90" y2="206.40" stroke="#333" stroke-width="0.7" />
<line x1="561.10" y1="207.80" x2="561.10" y2="206.00" stroke="#333" stroke-width="0.7" />
<line x1="565.10" y1="207.80" x2="565.10" y2="206.40" stroke="#333" stroke-width="0.7" />
<line x1="573.10" y1="207.80" x2="573.10" y2="206.00" stroke="#333" stroke-width="0.7" />
<line x1="578.70" y1="207.80" x2="578.70" y2="206.00" stroke="#333" stroke-width="0.7" />
<line x1="584.30" y1="207.80" x2="584.30" y2="206.00" stroke="#333" stroke-width="0.7" />
<line x1="585.10" y1="207.80" x2="585.10" y2="206.00" stroke="#333" stroke-width="0.7" />
<line x1="588.30" y1="207.80" x2="588.30" y2="206.80" stroke="#333" stroke-width="0.7" />
<line x1="605.10" y1="207.80" x2="605.10" y2="206.40" stroke="#333" stroke-width="0.7" />
<line x1="611.50" y1="207.80" x2="611.50" y2="206.80" stroke="#333" stroke-width="0.7" />
<line x1="619.50" y1="207.80" x2="619.50" y2="206.00" stroke="#333" stroke-width="0.7" />
<line x1="622.70" y1="207.80" x2="622.70" y2="206.40" stroke="#333" stroke-width="0.7" />
<line x1="58.50" y1="207.80" x2="58.50" y2="201.50" stroke="#333" stroke-width="1.1" />
<line x1="74.00" y1="207.80" x2="74.00" y2="191.70" stroke="#333" stroke-width="1.1" />
<line x1="139.50" y1="207.80" x2="139.50" y2="190.80" stroke="#333" stroke-width="1.1" />
<line x1="151.20" y1="207.80" x2="151.20" y2="163.40" stroke="#333" stroke-width="1.4" />
<line x1="160.50" y1="207.80" x2="160.50" y2="203.40" stroke="#333" stroke-width="1.1" />
<line x1="175.20" y1="207.80" x2="175.20" y2="203.40" stroke="#333" stroke-width="1.1" />
<line x1="177.60" y1="207.80" x2="177.60" y2="88.00" stroke="#333" stroke-width="1.4" />
<line x1="179.60" y1="207.80" x2="179.60" y2="128.00" stroke="#333" stroke-width="1.4" />
<line x1="180.60" y1="207.80" x2="180.60" y2="150.00" stroke="#333" stroke-width="1.4" />
<line x1="187.70" y1="207.80" x2="187.70" y2="202.50" stroke="#333" stroke-width="1.1" />
<line x1="258.50" y1="207.80" x2="258.50" y2="203.60" stroke="#333" stroke-width="1.1" />
<line x1="259.30" y1="207.80" x2="259.30" y2="203.60" stroke="#333" stroke-width="1.1" />
<line x1="273.00" y1="207.80" x2="273.00" y2="192.70" stroke="#333" stroke-width="1.1" />
<line x1="309.20" y1="207.80" x2="309.20" y2="206.00" stroke="#333" stroke-width="1.1" />
<line x1="313.10" y1="207.80" x2="313.10" y2="179.60" stroke="#333" stroke-width="1.4" />
<line x1="314.70" y1="207.80" x2="314.70" y2="202.50" stroke="#333" stroke-width="1.1" />
<line x1="320.10" y1="207.80" x2="320.10" y2="203.60" stroke="#333" stroke-width="1.1" />
<line x1="322.30" y1="207.80" x2="322.30" y2="187.40" stroke="#333" stroke-width="1.1" />
<line x1="327.10" y1="207.80" x2="327.10" y2="202.70" stroke="#333" stroke-width="1.1" />
<line x1="329.90" y1="207.80" x2="329.90" y2="198.00" stroke="#333" stroke-width="1.1" />
<line x1="332.00" y1="207.80" x2="332.00" y2="149.70" stroke="#333" stroke-width="1.4" />
<line x1="334.20" y1="207.80" x2="334.20" y2="80.40" stroke="#333" stroke-width="1.4" />
<line x1="336.70" y1="207.80" x2="336.70" y2="114.00" stroke="#333" stroke-width="1.4" />
<line x1="338.00" y1="207.80" x2="338.00" y2="160.00" stroke="#333" stroke-width="1.4" />
<line x1="339.70" y1="207.80" x2="339.70" y2="191.30" stroke="#333" stroke-width="1.1" />
<line x1="347.60" y1="207.80" x2="347.60" y2="201.00" stroke="#333" stroke-width="1.1" />
<line x1="348.40" y1="207.80" x2="348.40" y2="179.00" stroke="#333" stroke-width="1.4" />
<line x1="352.20" y1="207.80" x2="352.20" y2="182.30" stroke="#333" stroke-width="1.4" />
<line x1="359.00" y1="207.80" x2="359.00" y2="194.60" stroke="#333" stroke-width="1.1" />
<line x1="382.30" y1="207.80" x2="382.30" y2="206.00" stroke="#333" stroke-width="1.1" />
<line x1="394.60" y1="207.80" x2="394.60" y2="190.50" stroke="#333" stroke-width="1.1" />
<line x1="395.70" y1="207.80" x2="395.70" y2="200.80" stroke="#333" stroke-width="1.1" />
<line x1="399.50" y1="207.80" x2="399.50" y2="202.00" stroke="#333" stroke-width="1.1" />
<line x1="406.00" y1="207.80" x2="406.00" y2="205.00" stroke="#333" stroke-width="1.1" />
<line x1="426.70" y1="207.80" x2="426.70" y2="201.40" stroke="#333" stroke-width="1.1" />
<line x1="429.40" y1="207.80" x2="429.40" y2="204.00" stroke="#333" stroke-width="1.1" />
<line x1="436.20" y1="207.80" x2="436.20" y2="187.80" stroke="#333" stroke-width="1.1" />
<line x1="438.40" y1="207.80" x2="438.40" y2="196.00" stroke="#333" stroke-width="1.1" />
<line x1="455.20" y1="207.80" x2="455.20" y2="200.50" stroke="#333" stroke-width="1.1" />
<line x1="459.60" y1="207.80" x2="459.60" y2="203.50" stroke="#333" stroke-width="1.1" />
<line x1="471.00" y1="207.80" x2="471.00" y2="206.00" stroke="#333" stroke-width="1.1" />
<line x1="479.40" y1="207.80" x2="479.40" y2="197.80" stroke="#333" stroke-width="1.1" />
<line x1="507.20" y1="207.80" x2="507.20" y2="194.60" stroke="#333" stroke-width="1.1" />
<line x1="507.70" y1="207.80" x2="507.70" y2="168.75" stroke="#333" stroke-width="1.4" />
<line x1="512.60" y1="207.80" x2="512.60" y2="202.70" stroke="#333" stroke-width="1.1" />
<line x1="516.10" y1="207.80" x2="516.10" y2="119.80" stroke="#333" stroke-width="1.4" />
<line x1="519.40" y1="207.80" x2="519.40" y2="198.60" stroke="#333" stroke-width="1.1" />
<line x1="530.00" y1="207.80" x2="530.00" y2="185.90" stroke="#333" stroke-width="1.1" />
<line x1="533.80" y1="207.80" x2="533.80" y2="200.00" stroke="#333" stroke-width="1.1" />
<line x1="535.70" y1="207.80" x2="535.70" y2="205.00" stroke="#333" stroke-width="1.1" />
<line x1="550.40" y1="207.80" x2="550.40" y2="185.90" stroke="#333" stroke-width="1.1" />
<line x1="551.50" y1="207.80" x2="551.50" y2="191.80" stroke="#333" stroke-width="1.1" />
<line x1="562.20" y1="207.80" x2="562.20" y2="147.80" stroke="#333" stroke-width="1.4" />
<line x1="575.00" y1="207.80" x2="575.00" y2="205.00" stroke="#333" stroke-width="1.1" />
<line x1="577.00" y1="207.80" x2="577.00" y2="204.00" stroke="#333" stroke-width="1.1" />
<line x1="578.00" y1="207.80" x2="578.00" y2="204.50" stroke="#333" stroke-width="1.1" />
<line x1="589.30" y1="207.80" x2="589.30" y2="198.60" stroke="#333" stroke-width="1.1" />
<line x1="591.80" y1="207.80" x2="591.80" y2="200.50" stroke="#333" stroke-width="1.1" />
<line x1="596.00" y1="207.80" x2="596.00" y2="159.20" stroke="#333" stroke-width="1.4" />
<line x1="598.90" y1="207.80" x2="598.90" y2="193.20" stroke="#333" stroke-width="1.1" />
<line x1="601.00" y1="207.80" x2="601.00" y2="200.00" stroke="#333" stroke-width="1.1" />
<line x1="602.00" y1="207.80" x2="602.00" y2="197.00" stroke="#333" stroke-width="1.1" />
<line x1="603.00" y1="207.80" x2="603.00" y2="193.00" stroke="#333" stroke-width="1.1" />
<line x1="603.80" y1="207.80" x2="603.80" y2="188.00" stroke="#333" stroke-width="1.1" />
<line x1="604.80" y1="207.80" x2="604.80" y2="175.50" stroke="#333" stroke-width="1.4" />
<path d="M573.6 207.8L574.2 205.2L576 204.6L577.4 203.8L578.4 203.6L578.6 207.8Z" fill="#111"/>
<path d="M601.0 207.8L601.8 202L603 198.5L604 194.5L604.6 190L605.3 207.8Z" fill="#111"/>
<path d="M148.90 110.60L152.90 114.60M148.90 114.60L152.90 110.60" stroke="#1a1aff" stroke-width="0.95" fill="none"/>
<path d="M148.90 112.90L152.90 116.90M148.90 116.90L152.90 112.90" stroke="#1a1aff" stroke-width="0.95" fill="none"/>
<path d="M148.90 115.20L152.90 119.20M148.90 119.20L152.90 115.20" stroke="#1a1aff" stroke-width="0.95" fill="none"/>
<path d="M148.90 117.50L152.90 121.50M148.90 121.50L152.90 117.50" stroke="#1a1aff" stroke-width="0.95" fill="none"/>
<path d="M148.90 119.80L152.90 123.80M148.90 123.80L152.90 119.80" stroke="#1a1aff" stroke-width="0.95" fill="none"/>
<path d="M148.90 122.10L152.90 126.10M148.90 126.10L152.90 122.10" stroke="#1a1aff" stroke-width="0.95" fill="none"/>
<path d="M148.90 124.40L152.90 128.40M148.90 128.40L152.90 124.40" stroke="#1a1aff" stroke-width="0.95" fill="none"/>
<path d="M148.90 126.70L152.90 130.70M148.90 130.70L152.90 126.70" stroke="#1a1aff" stroke-width="0.95" fill="none"/>
<path d="M148.90 129.00L152.90 133.00M148.90 133.00L152.90 129.00" stroke="#1a1aff" stroke-width="0.95" fill="none"/>
<path d="M148.90 131.30L152.90 135.30M148.90 135.30L152.90 131.30" stroke="#1a1aff" stroke-width="0.95" fill="none"/>
<path d="M148.90 151.10L152.90 155.10M148.90 155.10L152.90 151.10" stroke="#1a1aff" stroke-width="0.95" fill="none"/>
<path d="M175.40 115.00L179.40 119.00M175.40 119.00L179.40 115.00" stroke="#1a1aff" stroke-width="0.95" fill="none"/>
<path d="M175.40 116.60L179.40 120.60M175.40 120.60L179.40 116.60" stroke="#1a1aff" stroke-width="0.95" fill="none"/>
<path d="M175.40 118.20L179.40 122.20M175.40 122.20L179.40 118.20" stroke="#1a1aff" stroke-width="0.95" fill="none"/>
<path d="M175.40 119.80L179.40 123.80M175.40 123.80L179.40 119.80" stroke="#1a1aff" stroke-width="0.95" fill="none"/>
<path d="M175.40 121.40L179.40 125.40M175.40 125.40L179.40 121.40" stroke="#1a1aff" stroke-width="0.95" fill="none"/>
<path d="M175.40 123.00L179.40 127.00M175.40 127.00L179.40 123.00" stroke="#1a1aff" stroke-width="0.95" fill="none"/>
<path d="M175.40 126.60L179.40 130.60M175.40 130.60L179.40 126.60" stroke="#1a1aff" stroke-width="0.95" fill="none"/>
<path d="M175.40 129.40L179.40 133.40M175.40 133.40L179.40 129.40" stroke="#1a1aff" stroke-width="0.95" fill="none"/>
<path d="M175.40 132.20L179.40 136.20M175.40 136.20L179.40 132.20" stroke="#1a1aff" stroke-width="0.95" fill="none"/>
<path d="M175.40 135.00L179.40 139.00M175.40 139.00L179.40 135.00" stroke="#1a1aff" stroke-width="0.95" fill="none"/>
<path d="M175.40 137.80L179.40 141.80M175.40 141.80L179.40 137.80" stroke="#1a1aff" stroke-width="0.95" fill="none"/>
<path d="M175.40 140.60L179.40 144.60M175.40 144.60L179.40 140.60" stroke="#1a1aff" stroke-width="0.95" fill="none"/>
<path d="M175.40 143.40L179.40 147.40M175.40 147.40L179.40 143.40" stroke="#1a1aff" stroke-width="0.95" fill="none"/>
<path d="M175.40 160.60L179.40 164.60M175.40 164.60L179.40 160.60" stroke="#1a1aff" stroke-width="0.95" fill="none"/>
<path d="M178.30 127.30L182.30 131.30M178.30 131.30L182.30 127.30" stroke="#1a1aff" stroke-width="0.95" fill="none"/>
<path d="M178.30 129.50L182.30 133.50M178.30 133.50L182.30 129.50" stroke="#1a1aff" stroke-width="0.95" fill="none"/>
<path d="M178.30 131.70L182.30 135.70M178.30 135.70L182.30 131.70" stroke="#1a1aff" stroke-width="0.95" fill="none"/>
<path d="M178.30 133.90L182.30 137.90M178.30 137.90L182.30 133.90" stroke="#1a1aff" stroke-width="0.95" fill="none"/>
<path d="M178.30 136.10L182.30 140.10M178.30 140.10L182.30 136.10" stroke="#1a1aff" stroke-width="0.95" fill="none"/>
<path d="M178.30 138.30L182.30 142.30M178.30 142.30L182.30 138.30" stroke="#1a1aff" stroke-width="0.95" fill="none"/>
<path d="M178.30 140.50L182.30 144.50M178.30 144.50L182.30 140.50" stroke="#1a1aff" stroke-width="0.95" fill="none"/>
<path d="M178.30 142.70L182.30 146.70M178.30 146.70L182.30 142.70" stroke="#1a1aff" stroke-width="0.95" fill="none"/>
<path d="M178.30 144.90L182.30 148.90M178.30 148.90L182.30 144.90" stroke="#1a1aff" stroke-width="0.95" fill="none"/>
<path d="M178.60 155.80L182.60 159.80M178.60 159.80L182.60 155.80" stroke="#1a1aff" stroke-width="0.95" fill="none"/>
<path d="M311.20 130.00L315.20 134.00M311.20 134.00L315.20 130.00" stroke="#1a1aff" stroke-width="0.95" fill="none"/>
<path d="M311.20 133.90L315.20 137.90M311.20 137.90L315.20 133.90" stroke="#1a1aff" stroke-width="0.95" fill="none"/>
<path d="M311.20 146.50L315.20 150.50M311.20 150.50L315.20 146.50" stroke="#1a1aff" stroke-width="0.95" fill="none"/>
<path d="M311.20 156.30L315.20 160.30M311.20 160.30L315.20 156.30" stroke="#1a1aff" stroke-width="0.95" fill="none"/>
<path d="M311.20 176.00L315.20 180.00M311.20 180.00L315.20 176.00" stroke="#1a1aff" stroke-width="0.95" fill="none"/>
<path d="M311.20 178.00L315.20 182.00M311.20 182.00L315.20 178.00" stroke="#1a1aff" stroke-width="0.95" fill="none"/>
<path d="M327.70 139.70L331.70 143.70M327.70 143.70L331.70 139.70" stroke="#1a1aff" stroke-width="0.95" fill="none"/>
<path d="M334.30 112.80L338.30 116.80M334.30 116.80L338.30 112.80" stroke="#1a1aff" stroke-width="0.95" fill="none"/>
<path d="M334.30 115.20L338.30 119.20M334.30 119.20L338.30 115.20" stroke="#1a1aff" stroke-width="0.95" fill="none"/>
<path d="M334.30 117.60L338.30 121.60M334.30 121.60L338.30 117.60" stroke="#1a1aff" stroke-width="0.95" fill="none"/>
<path d="M334.30 120.00L338.30 124.00M334.30 124.00L338.30 120.00" stroke="#1a1aff" stroke-width="0.95" fill="none"/>
<path d="M334.30 122.60L338.30 126.60M334.30 126.60L338.30 122.60" stroke="#1a1aff" stroke-width="0.95" fill="none"/>
<path d="M334.30 125.40L338.30 129.40M334.30 129.40L338.30 125.40" stroke="#1a1aff" stroke-width="0.95" fill="none"/>
<path d="M334.30 128.60L338.30 132.60M334.30 132.60L338.30 128.60" stroke="#1a1aff" stroke-width="0.95" fill="none"/>
<path d="M334.30 143.60L338.30 147.60M334.30 147.60L338.30 143.60" stroke="#1a1aff" stroke-width="0.95" fill="none"/>
<path d="M334.30 154.30L338.30 158.30M334.30 158.30L338.30 154.30" stroke="#1a1aff" stroke-width="0.95" fill="none"/>
<path d="M334.30 162.00L338.30 166.00M334.30 166.00L338.30 162.00" stroke="#1a1aff" stroke-width="0.95" fill="none"/>
<path d="M334.30 167.00L338.30 171.00M334.30 171.00L338.30 167.00" stroke="#1a1aff" stroke-width="0.95" fill="none"/>
<path d="M334.50 171.80L338.50 175.80M334.50 175.80L338.50 171.80" stroke="#1a1aff" stroke-width="0.95" fill="none"/>
<path d="M334.50 174.50L338.50 178.50M334.50 178.50L338.50 174.50" stroke="#1a1aff" stroke-width="0.95" fill="none"/>
<path d="M334.50 177.20L338.50 181.20M334.50 181.20L338.50 177.20" stroke="#1a1aff" stroke-width="0.95" fill="none"/>
<path d="M334.50 179.90L338.50 183.90M334.50 183.90L338.50 179.90" stroke="#1a1aff" stroke-width="0.95" fill="none"/>
<path d="M334.50 182.60L338.50 186.60M334.50 186.60L338.50 182.60" stroke="#1a1aff" stroke-width="0.95" fill="none"/>
<path d="M334.50 185.30L338.50 189.30M334.50 189.30L338.50 185.30" stroke="#1a1aff" stroke-width="0.95" fill="none"/>
<path d="M331.80 150.40L335.80 154.40M331.80 154.40L335.80 150.40" stroke="#1a1aff" stroke-width="0.95" fill="none"/>
<path d="M331.80 153.20L335.80 157.20M331.80 157.20L335.80 153.20" stroke="#1a1aff" stroke-width="0.95" fill="none"/>
<path d="M331.80 156.00L335.80 160.00M331.80 160.00L335.80 156.00" stroke="#1a1aff" stroke-width="0.95" fill="none"/>
<path d="M331.80 158.80L335.80 162.80M331.80 162.80L335.80 158.80" stroke="#1a1aff" stroke-width="0.95" fill="none"/>
<path d="M331.80 161.60L335.80 165.60M331.80 165.60L335.80 161.60" stroke="#1a1aff" stroke-width="0.95" fill="none"/>
<path d="M331.80 164.40L335.80 168.40M331.80 168.40L335.80 164.40" stroke="#1a1aff" stroke-width="0.95" fill="none"/>
<path d="M331.80 167.20L335.80 171.20M331.80 171.20L335.80 167.20" stroke="#1a1aff" stroke-width="0.95" fill="none"/>
<path d="M331.80 170.00L335.80 174.00M331.80 174.00L335.80 170.00" stroke="#1a1aff" stroke-width="0.95" fill="none"/>
<path d="M331.80 172.80L335.80 176.80M331.80 176.80L335.80 172.80" stroke="#1a1aff" stroke-width="0.95" fill="none"/>
<path d="M331.80 175.60L335.80 179.60M331.80 179.60L335.80 175.60" stroke="#1a1aff" stroke-width="0.95" fill="none"/>
<path d="M331.80 178.40L335.80 182.40M331.80 182.40L335.80 178.40" stroke="#1a1aff" stroke-width="0.95" fill="none"/>
<path d="M331.80 181.20L335.80 185.20M331.80 185.20L335.80 181.20" stroke="#1a1aff" stroke-width="0.95" fill="none"/>
<path d="M331.80 184.00L335.80 188.00M331.80 188.00L335.80 184.00" stroke="#1a1aff" stroke-width="0.95" fill="none"/>
<path d="M331.80 186.80L335.80 190.80M331.80 190.80L335.80 186.80" stroke="#1a1aff" stroke-width="0.95" fill="none"/>
<path d="M331.80 189.60L335.80 193.60M331.80 193.60L335.80 189.60" stroke="#1a1aff" stroke-width="0.95" fill="none"/>
<path d="M331.80 192.40L335.80 196.40M331.80 196.40L335.80 192.40" stroke="#1a1aff" stroke-width="0.95" fill="none"/>
<path d="M330.00 189.50L334.00 193.50M330.00 193.50L334.00 189.50" stroke="#1a1aff" stroke-width="0.95" fill="none"/>
<path d="M330.00 194.00L334.00 198.00M330.00 198.00L334.00 194.00" stroke="#1a1aff" stroke-width="0.95" fill="none"/>
<path d="M350.00 118.00L354.00 122.00M350.00 122.00L354.00 118.00" stroke="#1a1aff" stroke-width="0.95" fill="none"/>
<path d="M350.00 141.10L354.00 145.10M350.00 145.10L354.00 141.10" stroke="#1a1aff" stroke-width="0.95" fill="none"/>
<path d="M350.00 158.80L354.00 162.80M350.00 162.80L354.00 158.80" stroke="#1a1aff" stroke-width="0.95" fill="none"/>
<path d="M392.30 108.30L396.30 112.30M392.30 112.30L396.30 108.30" stroke="#1a1aff" stroke-width="0.95" fill="none"/>
<path d="M423.90 133.90L427.90 137.90M423.90 137.90L427.90 133.90" stroke="#1a1aff" stroke-width="0.95" fill="none"/>
<path d="M434.80 143.50L438.80 147.50M434.80 147.50L438.80 143.50" stroke="#1a1aff" stroke-width="0.95" fill="none"/>
<path d="M434.80 145.00L438.80 149.00M434.80 149.00L438.80 145.00" stroke="#1a1aff" stroke-width="0.95" fill="none"/>
<path d="M434.80 146.50L438.80 150.50M434.80 150.50L438.80 146.50" stroke="#1a1aff" stroke-width="0.95" fill="none"/>
<path d="M434.80 148.00L438.80 152.00M434.80 152.00L438.80 148.00" stroke="#1a1aff" stroke-width="0.95" fill="none"/>
<path d="M434.80 149.50L438.80 153.50M434.80 153.50L438.80 149.50" stroke="#1a1aff" stroke-width="0.95" fill="none"/>
<path d="M434.80 151.00L438.80 155.00M434.80 155.00L438.80 151.00" stroke="#1a1aff" stroke-width="0.95" fill="none"/>
<path d="M434.80 152.50L438.80 156.50M434.80 156.50L438.80 152.50" stroke="#1a1aff" stroke-width="0.95" fill="none"/>
<path d="M434.80 154.00L438.80 158.00M434.80 158.00L438.80 154.00" stroke="#1a1aff" stroke-width="0.95" fill="none"/>
<path d="M434.80 159.00L438.80 163.00M434.80 163.00L438.80 159.00" stroke="#1a1aff" stroke-width="0.95" fill="none"/>
<path d="M434.80 163.30L438.80 167.30M434.80 167.30L438.80 163.30" stroke="#1a1aff" stroke-width="0.95" fill="none"/>
<path d="M434.80 169.00L438.80 173.00M434.80 173.00L438.80 169.00" stroke="#1a1aff" stroke-width="0.95" fill="none"/>
<path d="M434.80 171.30L438.80 175.30M434.80 175.30L438.80 171.30" stroke="#1a1aff" stroke-width="0.95" fill="none"/>
<path d="M436.00 173.50L440.00 177.50M436.00 177.50L440.00 173.50" stroke="#1a1aff" stroke-width="0.95" fill="none"/>
<path d="M454.00 162.10L458.00 166.10M454.00 166.10L458.00 162.10" stroke="#1a1aff" stroke-width="0.95" fill="none"/>
<path d="M477.10 175.70L481.10 179.70M477.10 179.70L481.10 175.70" stroke="#1a1aff" stroke-width="0.95" fill="none"/>
<path d="M506.30 79.80L510.30 83.80M506.30 83.80L510.30 79.80" stroke="#1a1aff" stroke-width="0.95" fill="none"/>
<path d="M506.30 85.80L510.30 89.80M506.30 89.80L510.30 85.80" stroke="#1a1aff" stroke-width="0.95" fill="none"/>
<path d="M506.30 91.20L510.30 95.20M506.30 95.20L510.30 91.20" stroke="#1a1aff" stroke-width="0.95" fill="none"/>
<path d="M506.30 112.40L510.30 116.40M506.30 116.40L510.30 112.40" stroke="#1a1aff" stroke-width="0.95" fill="none"/>
<path d="M506.30 126.80L510.30 130.80M506.30 130.80L510.30 126.80" stroke="#1a1aff" stroke-width="0.95" fill="none"/>
<path d="M506.30 128.70L510.30 132.70M506.30 132.70L510.30 128.70" stroke="#1a1aff" stroke-width="0.95" fill="none"/>
<path d="M513.90 130.90L517.90 134.90M513.90 134.90L517.90 130.90" stroke="#1a1aff" stroke-width="0.95" fill="none"/>
<path d="M513.90 132.90L517.90 136.90M513.90 136.90L517.90 132.90" stroke="#1a1aff" stroke-width="0.95" fill="none"/>
<path d="M513.90 134.90L517.90 138.90M513.90 138.90L517.90 134.90" stroke="#1a1aff" stroke-width="0.95" fill="none"/>
<path d="M513.90 136.90L517.90 140.90M513.90 140.90L517.90 136.90" stroke="#1a1aff" stroke-width="0.95" fill="none"/>
<path d="M513.90 138.90L517.90 142.90M513.90 142.90L517.90 138.90" stroke="#1a1aff" stroke-width="0.95" fill="none"/>
<path d="M513.90 140.90L517.90 144.90M513.90 144.90L517.90 140.90" stroke="#1a1aff" stroke-width="0.95" fill="none"/>
<path d="M513.90 142.90L517.90 146.90M513.90 146.90L517.90 142.90" stroke="#1a1aff" stroke-width="0.95" fill="none"/>
<path d="M513.90 144.90L517.90 148.90M513.90 148.90L517.90 144.90" stroke="#1a1aff" stroke-width="0.95" fill="none"/>
<path d="M513.90 146.90L517.90 150.90M513.90 150.90L517.90 146.90" stroke="#1a1aff" stroke-width="0.95" fill="none"/>
<path d="M513.90 148.90L517.90 152.90M513.90 152.90L517.90 148.90" stroke="#1a1aff" stroke-width="0.95" fill="none"/>
<path d="M513.90 150.90L517.90 154.90M513.90 154.90L517.90 150.90" stroke="#1a1aff" stroke-width="0.95" fill="none"/>
<path d="M513.90 166.75L517.90 170.75M513.90 170.75L517.90 166.75" stroke="#1a1aff" stroke-width="0.95" fill="none"/>
<path d="M528.30 165.90L532.30 169.90M528.30 169.90L532.30 165.90" stroke="#1a1aff" stroke-width="0.95" fill="none"/>
<path d="M593.90 73.50L597.90 77.50M593.90 77.50L597.90 73.50" stroke="#1a1aff" stroke-width="0.95" fill="none"/>
<path d="M593.90 74.50L597.90 78.50M593.90 78.50L597.90 74.50" stroke="#1a1aff" stroke-width="0.95" fill="none"/>
<path d="M593.90 75.50L597.90 79.50M593.90 79.50L597.90 75.50" stroke="#1a1aff" stroke-width="0.95" fill="none"/>
<path d="M593.90 76.50L597.90 80.50M593.90 80.50L597.90 76.50" stroke="#1a1aff" stroke-width="0.95" fill="none"/>
<path d="M593.90 77.50L597.90 81.50M593.90 81.50L597.90 77.50" stroke="#1a1aff" stroke-width="0.95" fill="none"/>
<path d="M593.90 78.50L597.90 82.50M593.90 82.50L597.90 78.50" stroke="#1a1aff" stroke-width="0.95" fill="none"/>
<path d="M593.90 82.00L597.90 86.00M593.90 86.00L597.90 82.00" stroke="#1a1aff" stroke-width="0.95" fill="none"/>
<path d="M593.90 85.00L597.90 89.00M593.90 89.00L597.90 85.00" stroke="#1a1aff" stroke-width="0.95" fill="none"/>
<path d="M593.90 88.00L597.90 92.00M593.90 92.00L597.90 88.00" stroke="#1a1aff" stroke-width="0.95" fill="none"/>
<path d="M593.90 91.00L597.90 95.00M593.90 95.00L597.90 91.00" stroke="#1a1aff" stroke-width="0.95" fill="none"/>
<path d="M593.90 94.00L597.90 98.00M593.90 98.00L597.90 94.00" stroke="#1a1aff" stroke-width="0.95" fill="none"/>
<path d="M593.90 97.50L597.90 101.50M593.90 101.50L597.90 97.50" stroke="#1a1aff" stroke-width="0.95" fill="none"/>
<path d="M593.90 106.00L597.90 110.00M593.90 110.00L597.90 106.00" stroke="#1a1aff" stroke-width="0.95" fill="none"/>
<path d="M594.00 156.70L598.00 160.70M594.00 160.70L598.00 156.70" stroke="#1a1aff" stroke-width="0.95" fill="none"/>
<path d="M602.60 135.50L606.60 139.50M602.60 139.50L606.60 135.50" stroke="#1a1aff" stroke-width="0.95" fill="none"/>
<path d="M602.60 136.90L606.60 140.90M602.60 140.90L606.60 136.90" stroke="#1a1aff" stroke-width="0.95" fill="none"/>
<path d="M602.60 138.30L606.60 142.30M602.60 142.30L606.60 138.30" stroke="#1a1aff" stroke-width="0.95" fill="none"/>
<path d="M602.60 139.70L606.60 143.70M602.60 143.70L606.60 139.70" stroke="#1a1aff" stroke-width="0.95" fill="none"/>
<path d="M602.60 141.10L606.60 145.10M602.60 145.10L606.60 141.10" stroke="#1a1aff" stroke-width="0.95" fill="none"/>
<path d="M602.60 142.50L606.60 146.50M602.60 146.50L606.60 142.50" stroke="#1a1aff" stroke-width="0.95" fill="none"/>
<path d="M602.60 143.90L606.60 147.90M602.60 147.90L606.60 143.90" stroke="#1a1aff" stroke-width="0.95" fill="none"/>
<path d="M602.60 145.30L606.60 149.30M602.60 149.30L606.60 145.30" stroke="#1a1aff" stroke-width="0.95" fill="none"/>
<path d="M602.60 146.70L606.60 150.70M602.60 150.70L606.60 146.70" stroke="#1a1aff" stroke-width="0.95" fill="none"/>
<path d="M602.60 148.10L606.60 152.10M602.60 152.10L606.60 148.10" stroke="#1a1aff" stroke-width="0.95" fill="none"/>
<path d="M602.60 149.50L606.60 153.50M602.60 153.50L606.60 149.50" stroke="#1a1aff" stroke-width="0.95" fill="none"/>
<path d="M602.60 150.90L606.60 154.90M602.60 154.90L606.60 150.90" stroke="#1a1aff" stroke-width="0.95" fill="none"/>
<path d="M601.80 156.00L605.80 160.00M601.80 160.00L605.80 156.00" stroke="#1a1aff" stroke-width="0.95" fill="none"/>
<path d="M601.80 160.00L605.80 164.00M601.80 164.00L605.80 160.00" stroke="#1a1aff" stroke-width="0.95" fill="none"/>
<path d="M601.80 164.00L605.80 168.00M601.80 168.00L605.80 164.00" stroke="#1a1aff" stroke-width="0.95" fill="none"/>
<path d="M601.80 168.00L605.80 172.00M601.80 172.00L605.80 168.00" stroke="#1a1aff" stroke-width="0.95" fill="none"/>
<path d="M45.30 81.40L49.10 85.20M45.30 85.20L49.10 81.40" stroke="#0000ff" stroke-width="1.0" fill="none"/>
<text x="61.10" y="86.40" font-size="8.5" text-anchor="start" fill="#000" font-weight="normal" font-family='"Liberation Sans", sans-serif' stroke="#000" stroke-width="0.12">Total P (&lt;0.45)</text>
<text x="26.20" y="267.90" font-size="16" text-anchor="start" fill="#000" font-weight="bold" font-family='"Liberation Serif", serif' stroke="#000" stroke-width="0.18">b</text>
<line x1="48.45" y1="292.00" x2="48.45" y2="289.40" stroke="#555" stroke-width="0.9" />
<line x1="48.45" y1="482.80" x2="48.45" y2="485.40" stroke="#555" stroke-width="0.9" />
<text x="48.45" y="287.70" font-size="9.4" text-anchor="middle" fill="#000" font-weight="normal" font-family='"Liberation Sans", sans-serif' stroke="#000" stroke-width="0.18">28/06/11 16h</text>
<text x="48.45" y="497.00" font-size="9.4" text-anchor="middle" fill="#000" font-weight="normal" font-family='"Liberation Sans", sans-serif' stroke="#000" stroke-width="0.18">28/06/11 16h</text>
<line x1="70.00" y1="292.00" x2="70.00" y2="289.40" stroke="#555" stroke-width="0.9" />
<line x1="70.00" y1="482.80" x2="70.00" y2="485.40" stroke="#555" stroke-width="0.9" />
<line x1="91.55" y1="292.00" x2="91.55" y2="289.40" stroke="#555" stroke-width="0.9" />
<line x1="91.55" y1="482.80" x2="91.55" y2="485.40" stroke="#555" stroke-width="0.9" />
<line x1="113.10" y1="292.00" x2="113.10" y2="289.40" stroke="#555" stroke-width="0.9" />
<line x1="113.10" y1="482.80" x2="113.10" y2="485.40" stroke="#555" stroke-width="0.9" />
<text x="113.10" y="287.70" font-size="9.4" text-anchor="middle" fill="#000" font-weight="normal" font-family='"Liberation Sans", sans-serif' stroke="#000" stroke-width="0.18">28/06/11 19h</text>
<text x="113.10" y="497.00" font-size="9.4" text-anchor="middle" fill="#000" font-weight="normal" font-family='"Liberation Sans", sans-serif' stroke="#000" stroke-width="0.18">28/06/11 19h</text>
<line x1="134.65" y1="292.00" x2="134.65" y2="289.40" stroke="#555" stroke-width="0.9" />
<line x1="134.65" y1="482.80" x2="134.65" y2="485.40" stroke="#555" stroke-width="0.9" />
<line x1="156.20" y1="292.00" x2="156.20" y2="289.40" stroke="#555" stroke-width="0.9" />
<line x1="156.20" y1="482.80" x2="156.20" y2="485.40" stroke="#555" stroke-width="0.9" />
<line x1="177.75" y1="292.00" x2="177.75" y2="289.40" stroke="#555" stroke-width="0.9" />
<line x1="177.75" y1="482.80" x2="177.75" y2="485.40" stroke="#555" stroke-width="0.9" />
<text x="177.75" y="287.70" font-size="9.4" text-anchor="middle" fill="#000" font-weight="normal" font-family='"Liberation Sans", sans-serif' stroke="#000" stroke-width="0.18">28/06/11 22h</text>
<text x="177.75" y="497.00" font-size="9.4" text-anchor="middle" fill="#000" font-weight="normal" font-family='"Liberation Sans", sans-serif' stroke="#000" stroke-width="0.18">28/06/11 22h</text>
<line x1="199.30" y1="292.00" x2="199.30" y2="289.40" stroke="#555" stroke-width="0.9" />
<line x1="199.30" y1="482.80" x2="199.30" y2="485.40" stroke="#555" stroke-width="0.9" />
<line x1="220.85" y1="292.00" x2="220.85" y2="289.40" stroke="#555" stroke-width="0.9" />
<line x1="220.85" y1="482.80" x2="220.85" y2="485.40" stroke="#555" stroke-width="0.9" />
<line x1="242.40" y1="292.00" x2="242.40" y2="289.40" stroke="#555" stroke-width="0.9" />
<line x1="242.40" y1="482.80" x2="242.40" y2="485.40" stroke="#555" stroke-width="0.9" />
<text x="242.40" y="287.70" font-size="9.4" text-anchor="middle" fill="#000" font-weight="normal" font-family='"Liberation Sans", sans-serif' stroke="#000" stroke-width="0.18">29/06/11 01h</text>
<text x="242.40" y="497.00" font-size="9.4" text-anchor="middle" fill="#000" font-weight="normal" font-family='"Liberation Sans", sans-serif' stroke="#000" stroke-width="0.18">29/06/11 01h</text>
<line x1="263.95" y1="292.00" x2="263.95" y2="289.40" stroke="#555" stroke-width="0.9" />
<line x1="263.95" y1="482.80" x2="263.95" y2="485.40" stroke="#555" stroke-width="0.9" />
<line x1="285.50" y1="292.00" x2="285.50" y2="289.40" stroke="#555" stroke-width="0.9" />
<line x1="285.50" y1="482.80" x2="285.50" y2="485.40" stroke="#555" stroke-width="0.9" />
<line x1="307.05" y1="292.00" x2="307.05" y2="289.40" stroke="#555" stroke-width="0.9" />
<line x1="307.05" y1="482.80" x2="307.05" y2="485.40" stroke="#555" stroke-width="0.9" />
<text x="307.05" y="287.70" font-size="9.4" text-anchor="middle" fill="#000" font-weight="normal" font-family='"Liberation Sans", sans-serif' stroke="#000" stroke-width="0.18">29/06/11 04h</text>
<text x="307.05" y="497.00" font-size="9.4" text-anchor="middle" fill="#000" font-weight="normal" font-family='"Liberation Sans", sans-serif' stroke="#000" stroke-width="0.18">29/06/11 04h</text>
<line x1="328.60" y1="292.00" x2="328.60" y2="289.40" stroke="#555" stroke-width="0.9" />
<line x1="328.60" y1="482.80" x2="328.60" y2="485.40" stroke="#555" stroke-width="0.9" />
<line x1="350.15" y1="292.00" x2="350.15" y2="289.40" stroke="#555" stroke-width="0.9" />
<line x1="350.15" y1="482.80" x2="350.15" y2="485.40" stroke="#555" stroke-width="0.9" />
<line x1="371.70" y1="292.00" x2="371.70" y2="289.40" stroke="#555" stroke-width="0.9" />
<line x1="371.70" y1="482.80" x2="371.70" y2="485.40" stroke="#555" stroke-width="0.9" />
<text x="371.70" y="287.70" font-size="9.4" text-anchor="middle" fill="#000" font-weight="normal" font-family='"Liberation Sans", sans-serif' stroke="#000" stroke-width="0.18">29/06/11 07h</text>
<text x="371.70" y="497.00" font-size="9.4" text-anchor="middle" fill="#000" font-weight="normal" font-family='"Liberation Sans", sans-serif' stroke="#000" stroke-width="0.18">29/06/11 07h</text>
<line x1="393.25" y1="292.00" x2="393.25" y2="289.40" stroke="#555" stroke-width="0.9" />
<line x1="393.25" y1="482.80" x2="393.25" y2="485.40" stroke="#555" stroke-width="0.9" />
<line x1="414.80" y1="292.00" x2="414.80" y2="289.40" stroke="#555" stroke-width="0.9" />
<line x1="414.80" y1="482.80" x2="414.80" y2="485.40" stroke="#555" stroke-width="0.9" />
<line x1="51.50" y1="292.00" x2="51.50" y2="294.00" stroke="#333" stroke-width="0.8"/>
<line x1="55.09" y1="292.00" x2="55.09" y2="294.00" stroke="#333" stroke-width="0.8"/>
<line x1="58.68" y1="292.00" x2="58.68" y2="294.00" stroke="#333" stroke-width="0.8"/>
<line x1="62.28" y1="292.00" x2="62.28" y2="294.00" stroke="#333" stroke-width="0.8"/>
<line x1="65.87" y1="292.00" x2="65.87" y2="294.00" stroke="#333" stroke-width="0.8"/>
<line x1="69.46" y1="292.00" x2="69.46" y2="294.00" stroke="#333" stroke-width="0.8"/>
<line x1="73.05" y1="292.00" x2="73.05" y2="294.00" stroke="#333" stroke-width="0.8"/>
<line x1="76.64" y1="292.00" x2="76.64" y2="294.00" stroke="#333" stroke-width="0.8"/>
<line x1="80.24" y1="292.00" x2="80.24" y2="294.00" stroke="#333" stroke-width="0.8"/>
<line x1="83.83" y1="292.00" x2="83.83" y2="294.00" stroke="#333" stroke-width="0.8"/>
<line x1="87.42" y1="292.00" x2="87.42" y2="294.00" stroke="#333" stroke-width="0.8"/>
<line x1="91.01" y1="292.00" x2="91.01" y2="294.00" stroke="#333" stroke-width="0.8"/>
<line x1="94.60" y1="292.00" x2="94.60" y2="294.00" stroke="#333" stroke-width="0.8"/>
<line x1="98.20" y1="292.00" x2="98.20" y2="294.00" stroke="#333" stroke-width="0.8"/>
<line x1="101.79" y1="292.00" x2="101.79" y2="294.00" stroke="#333" stroke-width="0.8"/>
<line x1="105.38" y1="292.00" x2="105.38" y2="294.00" stroke="#333" stroke-width="0.8"/>
<line x1="108.97" y1="292.00" x2="108.97" y2="294.00" stroke="#333" stroke-width="0.8"/>
<line x1="112.56" y1="292.00" x2="112.56" y2="294.00" stroke="#333" stroke-width="0.8"/>
<line x1="116.16" y1="292.00" x2="116.16" y2="294.00" stroke="#333" stroke-width="0.8"/>
<line x1="119.75" y1="292.00" x2="119.75" y2="294.00" stroke="#333" stroke-width="0.8"/>
<line x1="123.34" y1="292.00" x2="123.34" y2="294.00" stroke="#333" stroke-width="0.8"/>
<line x1="126.93" y1="292.00" x2="126.93" y2="294.00" stroke="#333" stroke-width="0.8"/>
<line x1="130.52" y1="292.00" x2="130.52" y2="294.00" stroke="#333" stroke-width="0.8"/>
<line x1="134.12" y1="292.00" x2="134.12" y2="294.00" stroke="#333" stroke-width="0.8"/>
<line x1="137.71" y1="292.00" x2="137.71" y2="294.00" stroke="#333" stroke-width="0.8"/>
<line x1="141.30" y1="292.00" x2="141.30" y2="294.00" stroke="#333" stroke-width="0.8"/>
<line x1="144.89" y1="292.00" x2="144.89" y2="294.00" stroke="#333" stroke-width="0.8"/>
<line x1="148.48" y1="292.00" x2="148.48" y2="294.00" stroke="#333" stroke-width="0.8"/>
<line x1="152.08" y1="292.00" x2="152.08" y2="294.00" stroke="#333" stroke-width="0.8"/>
<line x1="155.67" y1="292.00" x2="155.67" y2="294.00" stroke="#333" stroke-width="0.8"/>
<line x1="159.26" y1="292.00" x2="159.26" y2="294.00" stroke="#333" stroke-width="0.8"/>
<line x1="162.85" y1="292.00" x2="162.85" y2="294.00" stroke="#333" stroke-width="0.8"/>
<line x1="166.44" y1="292.00" x2="166.44" y2="294.00" stroke="#333" stroke-width="0.8"/>
<line x1="170.04" y1="292.00" x2="170.04" y2="294.00" stroke="#333" stroke-width="0.8"/>
<line x1="173.63" y1="292.00" x2="173.63" y2="294.00" stroke="#333" stroke-width="0.8"/>
<line x1="177.22" y1="292.00" x2="177.22" y2="294.00" stroke="#333" stroke-width="0.8"/>
<line x1="180.81" y1="292.00" x2="180.81" y2="294.00" stroke="#333" stroke-width="0.8"/>
<line x1="184.40" y1="292.00" x2="184.40" y2="294.00" stroke="#333" stroke-width="0.8"/>
<line x1="188.00" y1="292.00" x2="188.00" y2="294.00" stroke="#333" stroke-width="0.8"/>
<line x1="191.59" y1="292.00" x2="191.59" y2="294.00" stroke="#333" stroke-width="0.8"/>
<line x1="195.18" y1="292.00" x2="195.18" y2="294.00" stroke="#333" stroke-width="0.8"/>
<line x1="198.77" y1="292.00" x2="198.77" y2="294.00" stroke="#333" stroke-width="0.8"/>
<line x1="202.36" y1="292.00" x2="202.36" y2="294.00" stroke="#333" stroke-width="0.8"/>
<line x1="205.96" y1="292.00" x2="205.96" y2="294.00" stroke="#333" stroke-width="0.8"/>
<line x1="209.55" y1="292.00" x2="209.55" y2="294.00" stroke="#333" stroke-width="0.8"/>
<line x1="213.14" y1="292.00" x2="213.14" y2="294.00" stroke="#333" stroke-width="0.8"/>
<line x1="216.73" y1="292.00" x2="216.73" y2="294.00" stroke="#333" stroke-width="0.8"/>
<line x1="220.32" y1="292.00" x2="220.32" y2="294.00" stroke="#333" stroke-width="0.8"/>
<line x1="223.92" y1="292.00" x2="223.92" y2="294.00" stroke="#333" stroke-width="0.8"/>
<line x1="227.51" y1="292.00" x2="227.51" y2="294.00" stroke="#333" stroke-width="0.8"/>
<line x1="231.10" y1="292.00" x2="231.10" y2="294.00" stroke="#333" stroke-width="0.8"/>
<line x1="234.69" y1="292.00" x2="234.69" y2="294.00" stroke="#333" stroke-width="0.8"/>
<line x1="238.28" y1="292.00" x2="238.28" y2="294.00" stroke="#333" stroke-width="0.8"/>
<line x1="241.88" y1="292.00" x2="241.88" y2="294.00" stroke="#333" stroke-width="0.8"/>
<line x1="245.47" y1="292.00" x2="245.47" y2="294.00" stroke="#333" stroke-width="0.8"/>
<line x1="249.06" y1="292.00" x2="249.06" y2="294.00" stroke="#333" stroke-width="0.8"/>
<line x1="252.65" y1="292.00" x2="252.65" y2="294.00" stroke="#333" stroke-width="0.8"/>
<line x1="256.24" y1="292.00" x2="256.24" y2="294.00" stroke="#333" stroke-width="0.8"/>
<line x1="259.84" y1="292.00" x2="259.84" y2="294.00" stroke="#333" stroke-width="0.8"/>
<line x1="263.43" y1="292.00" x2="263.43" y2="294.00" stroke="#333" stroke-width="0.8"/>
<line x1="267.02" y1="292.00" x2="267.02" y2="294.00" stroke="#333" stroke-width="0.8"/>
<line x1="270.61" y1="292.00" x2="270.61" y2="294.00" stroke="#333" stroke-width="0.8"/>
<line x1="274.20" y1="292.00" x2="274.20" y2="294.00" stroke="#333" stroke-width="0.8"/>
<line x1="277.80" y1="292.00" x2="277.80" y2="294.00" stroke="#333" stroke-width="0.8"/>
<line x1="281.39" y1="292.00" x2="281.39" y2="294.00" stroke="#333" stroke-width="0.8"/>
<line x1="284.98" y1="292.00" x2="284.98" y2="294.00" stroke="#333" stroke-width="0.8"/>
<line x1="288.57" y1="292.00" x2="288.57" y2="294.00" stroke="#333" stroke-width="0.8"/>
<line x1="292.16" y1="292.00" x2="292.16" y2="294.00" stroke="#333" stroke-width="0.8"/>
<line x1="295.76" y1="292.00" x2="295.76" y2="294.00" stroke="#333" stroke-width="0.8"/>
<line x1="299.35" y1="292.00" x2="299.35" y2="294.00" stroke="#333" stroke-width="0.8"/>
<line x1="302.94" y1="292.00" x2="302.94" y2="294.00" stroke="#333" stroke-width="0.8"/>
<line x1="306.53" y1="292.00" x2="306.53" y2="294.00" stroke="#333" stroke-width="0.8"/>
<line x1="310.12" y1="292.00" x2="310.12" y2="294.00" stroke="#333" stroke-width="0.8"/>
<line x1="313.72" y1="292.00" x2="313.72" y2="294.00" stroke="#333" stroke-width="0.8"/>
<line x1="317.31" y1="292.00" x2="317.31" y2="294.00" stroke="#333" stroke-width="0.8"/>
<line x1="320.90" y1="292.00" x2="320.90" y2="294.00" stroke="#333" stroke-width="0.8"/>
<line x1="324.49" y1="292.00" x2="324.49" y2="294.00" stroke="#333" stroke-width="0.8"/>
<line x1="328.08" y1="292.00" x2="328.08" y2="294.00" stroke="#333" stroke-width="0.8"/>
<line x1="331.68" y1="292.00" x2="331.68" y2="294.00" stroke="#333" stroke-width="0.8"/>
<line x1="335.27" y1="292.00" x2="335.27" y2="294.00" stroke="#333" stroke-width="0.8"/>
<line x1="338.86" y1="292.00" x2="338.86" y2="294.00" stroke="#333" stroke-width="0.8"/>
<line x1="342.45" y1="292.00" x2="342.45" y2="294.00" stroke="#333" stroke-width="0.8"/>
<line x1="346.04" y1="292.00" x2="346.04" y2="294.00" stroke="#333" stroke-width="0.8"/>
<line x1="349.64" y1="292.00" x2="349.64" y2="294.00" stroke="#333" stroke-width="0.8"/>
<line x1="353.23" y1="292.00" x2="353.23" y2="294.00" stroke="#333" stroke-width="0.8"/>
<line x1="356.82" y1="292.00" x2="356.82" y2="294.00" stroke="#333" stroke-width="0.8"/>
<line x1="360.41" y1="292.00" x2="360.41" y2="294.00" stroke="#333" stroke-width="0.8"/>
<line x1="364.00" y1="292.00" x2="364.00" y2="294.00" stroke="#333" stroke-width="0.8"/>
<line x1="367.60" y1="292.00" x2="367.60" y2="294.00" stroke="#333" stroke-width="0.8"/>
<line x1="371.19" y1="292.00" x2="371.19" y2="294.00" stroke="#333" stroke-width="0.8"/>
<line x1="374.78" y1="292.00" x2="374.78" y2="294.00" stroke="#333" stroke-width="0.8"/>
<line x1="378.37" y1="292.00" x2="378.37" y2="294.00" stroke="#333" stroke-width="0.8"/>
<line x1="381.96" y1="292.00" x2="381.96" y2="294.00" stroke="#333" stroke-width="0.8"/>
<line x1="385.56" y1="292.00" x2="385.56" y2="294.00" stroke="#333" stroke-width="0.8"/>
<line x1="389.15" y1="292.00" x2="389.15" y2="294.00" stroke="#333" stroke-width="0.8"/>
<line x1="392.74" y1="292.00" x2="392.74" y2="294.00" stroke="#333" stroke-width="0.8"/>
<line x1="396.33" y1="292.00" x2="396.33" y2="294.00" stroke="#333" stroke-width="0.8"/>
<line x1="399.92" y1="292.00" x2="399.92" y2="294.00" stroke="#333" stroke-width="0.8"/>
<line x1="403.52" y1="292.00" x2="403.52" y2="294.00" stroke="#333" stroke-width="0.8"/>
<line x1="407.11" y1="292.00" x2="407.11" y2="294.00" stroke="#333" stroke-width="0.8"/>
<line x1="410.70" y1="292.00" x2="410.70" y2="294.00" stroke="#333" stroke-width="0.8"/>
<line x1="125.40" y1="292.00" x2="125.40" y2="295.20" stroke="#222" stroke-width="1.1" />
<line x1="127.30" y1="292.00" x2="127.30" y2="297.40" stroke="#222" stroke-width="1.1" />
<line x1="130.50" y1="292.00" x2="130.50" y2="302.50" stroke="#222" stroke-width="1.1" />
<line x1="134.60" y1="292.00" x2="134.60" y2="316.90" stroke="#222" stroke-width="1.1" />
<line x1="138.00" y1="292.00" x2="138.00" y2="318.80" stroke="#222" stroke-width="1.1" />
<line x1="140.80" y1="292.00" x2="140.80" y2="300.20" stroke="#222" stroke-width="1.1" />
<line x1="145.00" y1="292.00" x2="145.00" y2="297.90" stroke="#222" stroke-width="1.1" />
<line x1="188.20" y1="292.00" x2="188.20" y2="318.80" stroke="#222" stroke-width="1.1" />
<line x1="202.40" y1="292.00" x2="202.40" y2="301.70" stroke="#222" stroke-width="1.1" />
<line x1="224.70" y1="292.00" x2="224.70" y2="297.90" stroke="#222" stroke-width="1.1" />
<line x1="248.40" y1="292.00" x2="248.40" y2="297.00" stroke="#222" stroke-width="1.1" />
<line x1="258.80" y1="292.00" x2="258.80" y2="296.80" stroke="#222" stroke-width="1.1" />
<line x1="267.40" y1="292.00" x2="267.40" y2="296.80" stroke="#222" stroke-width="1.1" />
<line x1="117.00" y1="292.00" x2="117.00" y2="294.80" stroke="#333" stroke-width="1.0" />
<line x1="120.50" y1="292.00" x2="120.50" y2="295.00" stroke="#333" stroke-width="1.0" />
<line x1="148.50" y1="292.00" x2="148.50" y2="296.00" stroke="#333" stroke-width="1.0" />
<line x1="152.00" y1="292.00" x2="152.00" y2="295.40" stroke="#333" stroke-width="1.0" />
<line x1="155.50" y1="292.00" x2="155.50" y2="295.20" stroke="#333" stroke-width="1.0" />
<line x1="181.00" y1="292.00" x2="181.00" y2="295.50" stroke="#333" stroke-width="1.0" />
<line x1="184.60" y1="292.00" x2="184.60" y2="296.50" stroke="#333" stroke-width="1.0" />
<line x1="192.00" y1="292.00" x2="192.00" y2="295.60" stroke="#333" stroke-width="1.0" />
<line x1="195.50" y1="292.00" x2="195.50" y2="295.30" stroke="#333" stroke-width="1.0" />
<line x1="206.00" y1="292.00" x2="206.00" y2="296.00" stroke="#333" stroke-width="1.0" />
<line x1="210.00" y1="292.00" x2="210.00" y2="296.30" stroke="#333" stroke-width="1.0" />
<line x1="213.50" y1="292.00" x2="213.50" y2="296.50" stroke="#333" stroke-width="1.0" />
<line x1="217.00" y1="292.00" x2="217.00" y2="296.00" stroke="#333" stroke-width="1.0" />
<line x1="221.00" y1="292.00" x2="221.00" y2="296.50" stroke="#333" stroke-width="1.0" />
<line x1="228.00" y1="292.00" x2="228.00" y2="296.50" stroke="#333" stroke-width="1.0" />
<line x1="231.50" y1="292.00" x2="231.50" y2="296.00" stroke="#333" stroke-width="1.0" />
<line x1="235.00" y1="292.00" x2="235.00" y2="296.40" stroke="#333" stroke-width="1.0" />
<line x1="238.50" y1="292.00" x2="238.50" y2="296.00" stroke="#333" stroke-width="1.0" />
<line x1="242.00" y1="292.00" x2="242.00" y2="296.60" stroke="#333" stroke-width="1.0" />
<line x1="245.50" y1="292.00" x2="245.50" y2="296.20" stroke="#333" stroke-width="1.0" />
<line x1="252.00" y1="292.00" x2="252.00" y2="296.30" stroke="#333" stroke-width="1.0" />
<line x1="255.50" y1="292.00" x2="255.50" y2="296.60" stroke="#333" stroke-width="1.0" />
<line x1="262.00" y1="292.00" x2="262.00" y2="296.20" stroke="#333" stroke-width="1.0" />
<line x1="265.00" y1="292.00" x2="265.00" y2="296.40" stroke="#333" stroke-width="1.0" />
<line x1="33.80" y1="292.00" x2="429.40" y2="292.00" stroke="#6f6f6f" stroke-width="1.1" />
<line x1="33.80" y1="327.60" x2="429.40" y2="327.60" stroke="#6f6f6f" stroke-width="1.2" />
<line x1="33.80" y1="291.50" x2="33.80" y2="328.10" stroke="#6f6f6f" stroke-width="1.8" />
<line x1="429.40" y1="291.50" x2="429.40" y2="328.10" stroke="#6f6f6f" stroke-width="1.6" />
<line x1="31.00" y1="293.30" x2="33.80" y2="293.30" stroke="#444" stroke-width="0.9" />
<line x1="31.00" y1="298.87" x2="33.80" y2="298.87" stroke="#444" stroke-width="0.9" />
<line x1="31.00" y1="304.44" x2="33.80" y2="304.44" stroke="#444" stroke-width="0.9" />
<line x1="31.00" y1="310.01" x2="33.80" y2="310.01" stroke="#444" stroke-width="0.9" />
<line x1="31.00" y1="315.58" x2="33.80" y2="315.58" stroke="#444" stroke-width="0.9" />
<line x1="31.00" y1="321.15" x2="33.80" y2="321.15" stroke="#444" stroke-width="0.9" />
<line x1="31.00" y1="326.72" x2="33.80" y2="326.72" stroke="#444" stroke-width="0.9" />
<text x="29.60" y="293.30" font-size="9.2" text-anchor="middle" fill="#000" font-weight="normal" font-family='"Liberation Sans", sans-serif' transform="rotate(-90 29.60 293.30)" stroke="#000" stroke-width="0.18">0</text>
<text x="29.60" y="310.01" font-size="9.2" text-anchor="middle" fill="#000" font-weight="normal" font-family='"Liberation Sans", sans-serif' transform="rotate(-90 29.60 310.01)" stroke="#000" stroke-width="0.18">3</text>
<text x="29.60" y="326.72" font-size="9.2" text-anchor="middle" fill="#000" font-weight="normal" font-family='"Liberation Sans", sans-serif' transform="rotate(-90 29.60 326.72)" stroke="#000" stroke-width="0.18">6</text>
<text x="12.30" y="302.50" font-size="11.3" text-anchor="middle" fill="#000" font-weight="normal" font-family='"Liberation Sans", sans-serif' transform="rotate(-90 12.30 302.50)" stroke="#000" stroke-width="0.18">Precipitation(mm)</text>
<line x1="33.80" y1="331.60" x2="33.80" y2="482.80" stroke="#6f6f6f" stroke-width="1.8" />
<line x1="33.80" y1="482.80" x2="429.40" y2="482.80" stroke="#6f6f6f" stroke-width="1.3" />
<line x1="429.40" y1="331.60" x2="429.40" y2="482.80" stroke="#6f6f6f" stroke-width="1.6" />
<line x1="31.00" y1="477.20" x2="33.80" y2="477.20" stroke="#444" stroke-width="0.9" />
<text x="29.40" y="477.20" font-size="9.2" text-anchor="middle" fill="#000" font-weight="normal" font-family='"Liberation Sans", sans-serif' transform="rotate(-90 29.40 477.20)" stroke="#000" stroke-width="0.18">0.0</text>
<line x1="31.00" y1="449.20" x2="33.80" y2="449.20" stroke="#444" stroke-width="0.9" />
<text x="29.40" y="449.20" font-size="9.2" text-anchor="middle" fill="#000" font-weight="normal" font-family='"Liberation Sans", sans-serif' transform="rotate(-90 29.40 449.20)" stroke="#000" stroke-width="0.18">0.2</text>
<line x1="31.00" y1="421.20" x2="33.80" y2="421.20" stroke="#444" stroke-width="0.9" />
<text x="29.40" y="421.20" font-size="9.2" text-anchor="middle" fill="#000" font-weight="normal" font-family='"Liberation Sans", sans-serif' transform="rotate(-90 29.40 421.20)" stroke="#000" stroke-width="0.18">0.4</text>
<line x1="31.00" y1="393.20" x2="33.80" y2="393.20" stroke="#444" stroke-width="0.9" />
<text x="29.40" y="393.20" font-size="9.2" text-anchor="middle" fill="#000" font-weight="normal" font-family='"Liberation Sans", sans-serif' transform="rotate(-90 29.40 393.20)" stroke="#000" stroke-width="0.18">0.6</text>
<line x1="31.00" y1="365.20" x2="33.80" y2="365.20" stroke="#444" stroke-width="0.9" />
<text x="29.40" y="365.20" font-size="9.2" text-anchor="middle" fill="#000" font-weight="normal" font-family='"Liberation Sans", sans-serif' transform="rotate(-90 29.40 365.20)" stroke="#000" stroke-width="0.18">0.8</text>
<line x1="31.00" y1="337.20" x2="33.80" y2="337.20" stroke="#444" stroke-width="0.9" />
<text x="29.40" y="337.20" font-size="9.2" text-anchor="middle" fill="#000" font-weight="normal" font-family='"Liberation Sans", sans-serif' transform="rotate(-90 29.40 337.20)" stroke="#000" stroke-width="0.18">1.0</text>
<line x1="429.40" y1="477.20" x2="432.00" y2="477.20" stroke="#444" stroke-width="0.9" />
<text x="443.20" y="477.20" font-size="9.2" text-anchor="middle" fill="#000" font-weight="normal" font-family='"Liberation Sans", sans-serif' transform="rotate(-90 443.20 477.20)" stroke="#000" stroke-width="0.18">0.00</text>
<line x1="429.40" y1="450.76" x2="432.00" y2="450.76" stroke="#444" stroke-width="0.9" />
<text x="443.20" y="450.76" font-size="9.2" text-anchor="middle" fill="#000" font-weight="normal" font-family='"Liberation Sans", sans-serif' transform="rotate(-90 443.20 450.76)" stroke="#000" stroke-width="0.18">0.05</text>
<line x1="429.40" y1="424.32" x2="432.00" y2="424.32" stroke="#444" stroke-width="0.9" />
<text x="443.20" y="424.32" font-size="9.2" text-anchor="middle" fill="#000" font-weight="normal" font-family='"Liberation Sans", sans-serif' transform="rotate(-90 443.20 424.32)" stroke="#000" stroke-width="0.18">0.10</text>
<line x1="429.40" y1="397.88" x2="432.00" y2="397.88" stroke="#444" stroke-width="0.9" />
<text x="443.20" y="397.88" font-size="9.2" text-anchor="middle" fill="#000" font-weight="normal" font-family='"Liberation Sans", sans-serif' transform="rotate(-90 443.20 397.88)" stroke="#000" stroke-width="0.18">0.15</text>
<line x1="429.40" y1="371.44" x2="432.00" y2="371.44" stroke="#444" stroke-width="0.9" />
<text x="443.20" y="371.44" font-size="9.2" text-anchor="middle" fill="#000" font-weight="normal" font-family='"Liberation Sans", sans-serif' transform="rotate(-90 443.20 371.44)" stroke="#000" stroke-width="0.18">0.20</text>
<line x1="429.40" y1="345.00" x2="432.00" y2="345.00" stroke="#444" stroke-width="0.9" />
<text x="443.20" y="345.00" font-size="9.2" text-anchor="middle" fill="#000" font-weight="normal" font-family='"Liberation Sans", sans-serif' transform="rotate(-90 443.20 345.00)" stroke="#000" stroke-width="0.18">0.25</text>
<text x="12.70" y="419.40" font-size="11.15" text-anchor="middle" fill="#000" font-weight="normal" font-family='"Liberation Sans", sans-serif' transform="rotate(-90 12.70 419.40)" stroke="#000" stroke-width="0.18">P concentration (mg L<tspan dy="-5.4" font-size="7.2">−1</tspan><tspan dy="5.4">)</tspan></text>
<text x="460.70" y="407.40" font-size="10.7" text-anchor="middle" fill="#000" font-weight="normal" font-family='"Liberation Sans", sans-serif' transform="rotate(-90 460.70 407.40)" stroke="#000" stroke-width="0.18">Discharge (m<tspan dx="0.6" dy="-5.2" font-size="7.4">3</tspan><tspan dx="0.8" dy="5.2"> s</tspan><tspan dx="0.4" dy="-5.2" font-size="7.4">−1</tspan><tspan dx="0.3" dy="5.2">)</tspan></text>
<text x="230.30" y="512.40" font-size="11.0" text-anchor="middle" fill="#000" font-weight="normal" font-family='"Liberation Sans", sans-serif' stroke="#000" stroke-width="0.18">Time</text>
<polyline points="51.1,476.9 113.9,476.6 117.0,476.0 121.6,474.1 124.7,475.0 134.0,475.0 137.1,466.6 141.2,381.2 145.5,393.7 149.6,423.2 152.7,454.2 156.7,472.9 160.4,475.0 171.3,474.7 174.4,476.6 185.3,476.6 188.4,474.7 190.0,423.2 191.5,354.8 195.2,337.8 199.3,376.6 203.3,429.4 206.4,438.6 209.8,433.6 214.5,445.6 217.7,452.0 220.9,452.0 224.7,445.6 228.9,426.4 231.5,411.9 238.5,400.7 245.0,394.2 251.4,386.2 261.0,379.8 265.8,378.8 270.7,376.6 275.5,383.0 279.7,391.0 287.8,396.3 293.6,398.0 300.9,399.0 308.2,402.3 315.5,409.6 325.0,418.4 330.0,423.9 337.8,433.4 345.5,439.8 353.3,446.6 361.1,452.6 368.8,459.2 375.0,464.3 384.7,467.1 392.7,466.5 399.1,469.7 405.6,472.9 411.3,476.6" fill="none" stroke="#111" stroke-width="1.35" stroke-linejoin="round"/>
<path d="M140.50 394.40L144.90 398.80M140.50 398.80L144.90 394.40" stroke="#2525ff" stroke-width="1.15" fill="none"/>
<path d="M186.80 415.30L191.20 419.70M186.80 419.70L191.20 415.30" stroke="#2525ff" stroke-width="1.15" fill="none"/>
<path d="M191.20 392.60L195.60 397.00M191.20 397.00L195.60 392.60" stroke="#2525ff" stroke-width="1.15" fill="none"/>
<path d="M198.00 380.20L202.40 384.60M198.00 384.60L202.40 380.20" stroke="#2525ff" stroke-width="1.15" fill="none"/>
<path d="M215.40 386.10L219.80 390.50M215.40 390.50L219.80 386.10" stroke="#2525ff" stroke-width="1.15" fill="none"/>
<path d="M229.30 370.10L233.70 374.50M229.30 374.50L233.70 370.10" stroke="#2525ff" stroke-width="1.15" fill="none"/>
<path d="M237.90 377.10L242.30 381.50M237.90 381.50L242.30 377.10" stroke="#2525ff" stroke-width="1.15" fill="none"/>
<path d="M246.00 377.10L250.40 381.50M246.00 381.50L250.40 377.10" stroke="#2525ff" stroke-width="1.15" fill="none"/>
<path d="M252.40 377.10L256.80 381.50M252.40 381.50L256.80 377.10" stroke="#2525ff" stroke-width="1.15" fill="none"/>
<path d="M258.80 379.00L263.20 383.40M258.80 383.40L263.20 379.00" stroke="#2525ff" stroke-width="1.15" fill="none"/>
<path d="M265.90 374.20L270.30 378.60M265.90 378.60L270.30 374.20" stroke="#2525ff" stroke-width="1.15" fill="none"/>
<path d="M272.30 373.30L276.70 377.70M272.30 377.70L276.70 373.30" stroke="#2525ff" stroke-width="1.15" fill="none"/>
<path d="M279.70 375.50L284.10 379.90M279.70 379.90L284.10 375.50" stroke="#2525ff" stroke-width="1.15" fill="none"/>
<path d="M287.70 378.10L292.10 382.50M287.70 382.50L292.10 378.10" stroke="#2525ff" stroke-width="1.15" fill="none"/>
<path d="M295.80 375.50L300.20 379.90M295.80 379.90L300.20 375.50" stroke="#2525ff" stroke-width="1.15" fill="none"/>
<path d="M303.80 378.70L308.20 383.10M303.80 383.10L308.20 378.70" stroke="#2525ff" stroke-width="1.15" fill="none"/>
<path d="M311.80 382.90L316.20 387.30M311.80 387.30L316.20 382.90" stroke="#2525ff" stroke-width="1.15" fill="none"/>
<path d="M322.40 384.80L326.80 389.20M322.40 389.20L326.80 384.80" stroke="#2525ff" stroke-width="1.15" fill="none"/>
<path d="M335.30 390.30L339.70 394.70M335.30 394.70L339.70 390.30" stroke="#2525ff" stroke-width="1.15" fill="none"/>
<path d="M353.60 388.70L358.00 393.10M353.60 393.10L358.00 388.70" stroke="#2525ff" stroke-width="1.15" fill="none"/>
<path d="M142.40 398.60L145.34 403.50L139.46 403.50Z" stroke="#ff3535" stroke-width="1.1" fill="none"/>
<path d="M189.00 418.80L191.94 423.70L186.06 423.70Z" stroke="#ff3535" stroke-width="1.1" fill="none"/>
<path d="M193.40 407.90L196.34 412.80L190.46 412.80Z" stroke="#ff3535" stroke-width="1.1" fill="none"/>
<path d="M200.20 385.00L203.14 389.90L197.26 389.90Z" stroke="#ff3535" stroke-width="1.1" fill="none"/>
<path d="M217.60 396.20L220.54 401.10L214.66 401.10Z" stroke="#ff3535" stroke-width="1.1" fill="none"/>
<path d="M231.50 379.90L234.44 384.80L228.56 384.80Z" stroke="#ff3535" stroke-width="1.1" fill="none"/>
<path d="M240.10 382.40L243.04 387.30L237.16 387.30Z" stroke="#ff3535" stroke-width="1.1" fill="none"/>
<path d="M248.20 381.50L251.14 386.40L245.26 386.40Z" stroke="#ff3535" stroke-width="1.1" fill="none"/>
<path d="M254.60 381.20L257.54 386.10L251.66 386.10Z" stroke="#ff3535" stroke-width="1.1" fill="none"/>
<path d="M261.00 386.90L263.94 391.80L258.06 391.80Z" stroke="#ff3535" stroke-width="1.1" fill="none"/>
<path d="M268.10 385.70L271.04 390.60L265.16 390.60Z" stroke="#ff3535" stroke-width="1.1" fill="none"/>
<path d="M274.50 382.40L277.44 387.30L271.56 387.30Z" stroke="#ff3535" stroke-width="1.1" fill="none"/>
<path d="M281.90 382.40L284.84 387.30L278.96 387.30Z" stroke="#ff3535" stroke-width="1.1" fill="none"/>
<path d="M289.90 380.50L292.84 385.40L286.96 385.40Z" stroke="#ff3535" stroke-width="1.1" fill="none"/>
<path d="M298.00 385.00L300.94 389.90L295.06 389.90Z" stroke="#ff3535" stroke-width="1.1" fill="none"/>
<path d="M306.00 385.70L308.94 390.60L303.06 390.60Z" stroke="#ff3535" stroke-width="1.1" fill="none"/>
<path d="M314.00 387.60L316.94 392.50L311.06 392.50Z" stroke="#ff3535" stroke-width="1.1" fill="none"/>
<path d="M324.60 388.20L327.54 393.10L321.66 393.10Z" stroke="#ff3535" stroke-width="1.1" fill="none"/>
<path d="M337.50 396.20L340.44 401.10L334.56 401.10Z" stroke="#ff3535" stroke-width="1.1" fill="none"/>
<path d="M355.80 394.60L358.74 399.50L352.86 399.50Z" stroke="#ff3535" stroke-width="1.1" fill="none"/>
<path d="M338.00 338.40L341.20 341.60M338.00 341.60L341.20 338.40" stroke="#0000ff" stroke-width="1.0" fill="none"/>
<path d="M339.60 346.00L342.02 350.03L337.19 350.03Z" stroke="#ff0000" stroke-width="1.0" fill="none"/>
<text x="348.30" y="343.60" font-size="9.35" text-anchor="start" fill="#000" font-weight="normal" font-family='"Liberation Sans", sans-serif' stroke="#000" stroke-width="0.12">Total P (&lt;0.45)</text>
<text x="348.30" y="352.10" font-size="9.35" text-anchor="start" fill="#000" font-weight="normal" font-family='"Liberation Sans", sans-serif' stroke="#000" stroke-width="0.12">Reactive P (&lt;0.45)</text>
</svg></body></html>
